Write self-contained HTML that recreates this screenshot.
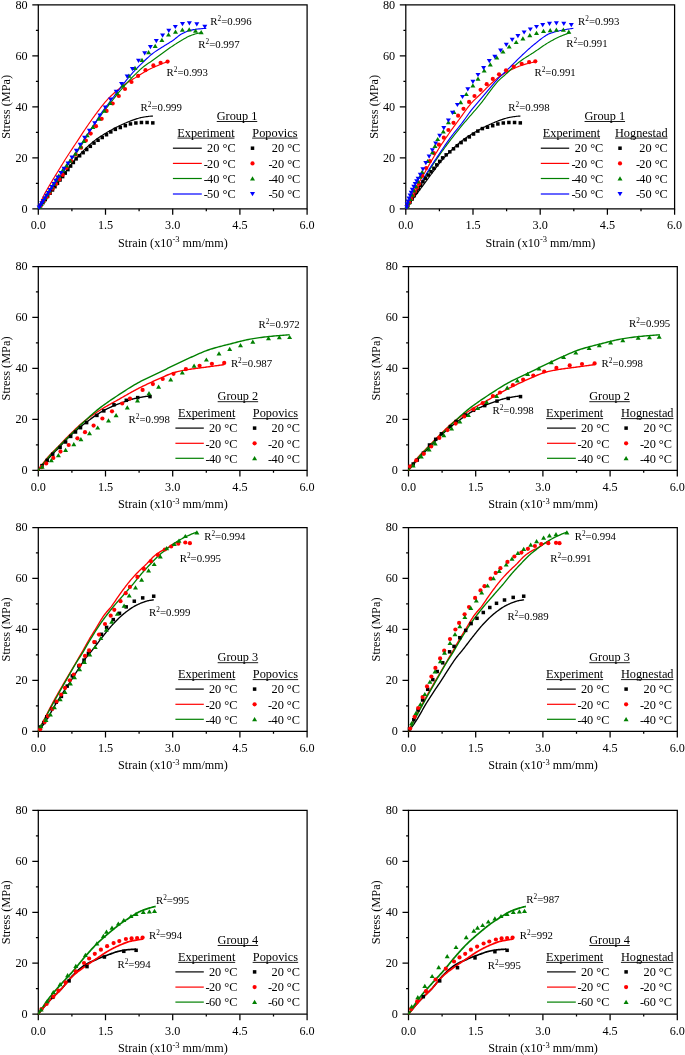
<!DOCTYPE html>
<html><head><meta charset="utf-8"><style>
html,body{margin:0;padding:0;background:#fff;}
svg{display:block;will-change:transform;}
text{font-family:"Liberation Serif",serif;fill:#000;}
</style></head><body>
<svg width="685" height="1055" viewBox="0 0 685 1055">
<rect width="685" height="1055" fill="#fff"/>
<path d="M38.30 4.90H307.10V208.80H38.30Z" fill="none" stroke="#000" stroke-width="1.25"/>
<path d="M32.30 208.80H38.30M35.90 183.31H38.30M32.30 157.83H38.30M35.90 132.34H38.30M32.30 106.85H38.30M35.90 81.36H38.30M32.30 55.88H38.30M35.90 30.39H38.30M32.30 4.90H38.30M38.30 208.80V214.80M71.90 208.80V211.20M105.50 208.80V214.80M139.10 208.80V211.20M172.70 208.80V214.80M206.30 208.80V211.20M239.90 208.80V214.80M273.50 208.80V211.20M307.10 208.80V214.80" stroke="#000" stroke-width="1.25" fill="none"/>
<text x="27.70" y="212.70" font-size="12.2" text-anchor="end">0</text>
<text x="27.70" y="161.73" font-size="12.2" text-anchor="end">20</text>
<text x="27.70" y="110.75" font-size="12.2" text-anchor="end">40</text>
<text x="27.70" y="59.77" font-size="12.2" text-anchor="end">60</text>
<text x="27.70" y="8.80" font-size="12.2" text-anchor="end">80</text>
<text x="38.30" y="229.40" font-size="12.2" text-anchor="middle">0.0</text>
<text x="105.50" y="229.40" font-size="12.2" text-anchor="middle">1.5</text>
<text x="172.70" y="229.40" font-size="12.2" text-anchor="middle">3.0</text>
<text x="239.90" y="229.40" font-size="12.2" text-anchor="middle">4.5</text>
<text x="307.10" y="229.40" font-size="12.2" text-anchor="middle">6.0</text>
<text x="172.90" y="246.80" font-size="12.15" text-anchor="middle">Strain (x10<tspan font-size="8.5" dy="-4.5">-3</tspan><tspan dy="4.5"> mm/mm)</tspan></text>
<text transform="translate(10.10,106.85) rotate(-90)" font-size="12.3" text-anchor="middle">Stress (MPa)</text>
<path d="M38.30 208.80 L39.02 207.81 L39.74 206.82 L40.46 205.83 L41.19 204.84 L41.91 203.86 L42.63 202.87 L43.35 201.89 L44.07 200.90 L44.79 199.92 L45.51 198.94 L46.23 197.96 L46.96 196.98 L47.68 196.00 L48.40 195.03 L49.12 194.05 L49.84 193.08 L50.56 192.10 L51.28 191.13 L52.00 190.16 L52.73 189.19 L53.45 188.22 L54.17 187.25 L54.89 186.29 L55.61 185.32 L56.33 184.36 L57.05 183.40 L57.78 182.43 L58.50 181.46 L59.22 180.48 L59.94 179.49 L60.66 178.50 L61.38 177.50 L62.10 176.51 L62.82 175.51 L63.55 174.51 L64.27 173.52 L64.99 172.53 L65.71 171.54 L66.43 170.55 L67.15 169.57 L67.87 168.60 L68.59 167.64 L69.32 166.69 L70.04 165.74 L70.76 164.81 L71.48 163.90 L72.20 162.99 L72.92 162.10 L73.64 161.23 L74.37 160.38 L75.09 159.54 L75.81 158.73 L76.53 157.93 L77.25 157.14 L77.97 156.35 L78.69 155.57 L79.41 154.80 L80.14 154.03 L80.86 153.28 L81.58 152.53 L82.30 151.79 L83.02 151.05 L83.74 150.33 L84.46 149.61 L85.19 148.91 L85.91 148.21 L86.63 147.52 L87.35 146.84 L88.07 146.18 L88.79 145.52 L89.51 144.87 L90.23 144.23 L90.96 143.60 L91.68 142.99 L92.40 142.38 L93.12 141.79 L93.84 141.21 L94.56 140.64 L95.28 140.08 L96.00 139.54 L96.73 139.01 L97.45 138.50 L98.17 138.00 L98.89 137.51 L99.61 137.02 L100.33 136.55 L101.05 136.09 L101.78 135.63 L102.50 135.17 L103.22 134.72 L103.94 134.28 L104.66 133.83 L105.38 133.39 L106.10 132.96 L106.82 132.53 L107.55 132.10 L108.27 131.68 L108.99 131.27 L109.71 130.86 L110.43 130.45 L111.15 130.05 L111.87 129.66 L112.59 129.27 L113.32 128.88 L114.04 128.50 L114.76 128.12 L115.48 127.75 L116.20 127.38 L116.92 127.02 L117.64 126.65 L118.37 126.30 L119.09 125.94 L119.81 125.60 L120.53 125.25 L121.25 124.91 L121.97 124.58 L122.69 124.25 L123.41 123.93 L124.14 123.61 L124.86 123.29 L125.58 122.98 L126.30 122.67 L127.02 122.36 L127.74 122.06 L128.46 121.76 L129.18 121.47 L129.91 121.18 L130.63 120.90 L131.35 120.63 L132.07 120.37 L132.79 120.12 L133.51 119.87 L134.23 119.62 L134.96 119.37 L135.68 119.12 L136.40 118.88 L137.12 118.65 L137.84 118.43 L138.56 118.22 L139.28 118.02 L140.00 117.84 L140.73 117.68 L141.45 117.53 L142.17 117.40 L142.89 117.27 L143.61 117.14 L144.33 117.02 L145.05 116.89 L145.77 116.78 L146.50 116.67 L147.22 116.56 L147.94 116.46 L148.66 116.37 L149.38 116.29 L150.10 116.22 L150.82 116.15 L151.55 116.10 L152.27 116.06 L152.99 116.03" fill="none" stroke="#000000" stroke-width="1.15" stroke-linejoin="round"/>
<path d="M38.30 208.80 L39.11 206.58 L39.92 204.42 L40.73 202.35 L41.54 200.38 L42.35 198.52 L43.16 196.79 L43.97 195.15 L44.78 193.60 L45.59 192.12 L46.40 190.68 L47.21 189.28 L48.02 187.89 L48.83 186.51 L49.64 185.11 L50.45 183.71 L51.26 182.34 L52.07 180.98 L52.88 179.63 L53.69 178.30 L54.50 176.97 L55.31 175.65 L56.12 174.33 L56.93 173.02 L57.74 171.70 L58.55 170.39 L59.36 169.06 L60.17 167.74 L60.98 166.41 L61.79 165.08 L62.60 163.76 L63.41 162.44 L64.22 161.13 L65.03 159.82 L65.84 158.53 L66.65 157.25 L67.46 155.97 L68.27 154.72 L69.08 153.48 L69.89 152.25 L70.70 151.03 L71.51 149.81 L72.32 148.60 L73.13 147.39 L73.94 146.19 L74.75 144.98 L75.56 143.76 L76.37 142.54 L77.18 141.31 L77.99 140.08 L78.80 138.84 L79.61 137.59 L80.42 136.35 L81.23 135.10 L82.04 133.87 L82.85 132.63 L83.66 131.41 L84.47 130.20 L85.28 129.00 L86.09 127.81 L86.90 126.64 L87.71 125.46 L88.52 124.29 L89.33 123.13 L90.14 121.97 L90.95 120.82 L91.76 119.68 L92.57 118.54 L93.38 117.42 L94.19 116.30 L95.00 115.20 L95.81 114.10 L96.62 113.02 L97.43 111.95 L98.24 110.89 L99.05 109.82 L99.86 108.77 L100.67 107.72 L101.48 106.68 L102.29 105.65 L103.11 104.63 L103.92 103.63 L104.73 102.65 L105.54 101.70 L106.35 100.76 L107.16 99.85 L107.97 98.97 L108.78 98.12 L109.59 97.30 L110.40 96.50 L111.21 95.72 L112.02 94.96 L112.83 94.22 L113.64 93.49 L114.45 92.76 L115.26 92.05 L116.07 91.34 L116.88 90.64 L117.69 89.96 L118.50 89.28 L119.31 88.61 L120.12 87.95 L120.93 87.31 L121.74 86.68 L122.55 86.05 L123.36 85.45 L124.17 84.85 L124.98 84.27 L125.79 83.70 L126.60 83.15 L127.41 82.62 L128.22 82.09 L129.03 81.58 L129.84 81.07 L130.65 80.57 L131.46 80.07 L132.27 79.58 L133.08 79.10 L133.89 78.61 L134.70 78.12 L135.51 77.63 L136.32 77.13 L137.13 76.63 L137.94 76.12 L138.75 75.61 L139.56 75.08 L140.37 74.56 L141.18 74.03 L141.99 73.50 L142.80 72.99 L143.61 72.48 L144.42 71.98 L145.23 71.49 L146.04 71.02 L146.85 70.57 L147.66 70.14 L148.47 69.73 L149.28 69.33 L150.09 68.94 L150.90 68.57 L151.71 68.20 L152.52 67.83 L153.33 67.47 L154.14 67.12 L154.95 66.76 L155.76 66.40 L156.57 66.05 L157.38 65.70 L158.19 65.35 L159.00 65.01 L159.81 64.66 L160.62 64.32 L161.43 63.99 L162.24 63.66 L163.05 63.33 L163.86 63.00 L164.67 62.68 L165.48 62.36 L166.29 62.05 L167.10 61.74" fill="none" stroke="#ff0000" stroke-width="1.15" stroke-linejoin="round"/>
<path d="M38.30 208.80 L39.33 207.16 L40.36 205.54 L41.39 203.93 L42.42 202.33 L43.46 200.74 L44.49 199.17 L45.52 197.61 L46.55 196.07 L47.58 194.54 L48.61 193.02 L49.64 191.51 L50.67 190.04 L51.71 188.60 L52.74 187.18 L53.77 185.78 L54.80 184.38 L55.83 182.99 L56.86 181.59 L57.89 180.17 L58.92 178.73 L59.96 177.26 L60.99 175.75 L62.02 174.18 L63.05 172.56 L64.08 170.92 L65.11 169.25 L66.14 167.59 L67.17 165.95 L68.21 164.34 L69.24 162.78 L70.27 161.29 L71.30 159.87 L72.33 158.49 L73.36 157.13 L74.39 155.75 L75.42 154.35 L76.46 152.87 L77.49 151.34 L78.52 149.76 L79.55 148.15 L80.58 146.51 L81.61 144.85 L82.64 143.17 L83.67 141.48 L84.71 139.78 L85.74 138.05 L86.77 136.25 L87.80 134.45 L88.83 132.68 L89.86 131.00 L90.89 129.39 L91.92 127.83 L92.96 126.30 L93.99 124.80 L95.02 123.32 L96.05 121.87 L97.08 120.44 L98.11 119.02 L99.14 117.61 L100.17 116.21 L101.21 114.83 L102.24 113.48 L103.27 112.14 L104.30 110.83 L105.33 109.52 L106.36 108.21 L107.39 106.91 L108.42 105.59 L109.46 104.26 L110.49 102.93 L111.52 101.59 L112.55 100.25 L113.58 98.91 L114.61 97.59 L115.64 96.28 L116.67 94.99 L117.71 93.72 L118.74 92.47 L119.77 91.23 L120.80 90.00 L121.83 88.79 L122.86 87.59 L123.89 86.40 L124.92 85.23 L125.96 84.08 L126.99 82.94 L128.02 81.81 L129.05 80.69 L130.08 79.59 L131.11 78.50 L132.14 77.42 L133.17 76.37 L134.21 75.33 L135.24 74.32 L136.27 73.31 L137.30 72.31 L138.33 71.33 L139.36 70.36 L140.39 69.41 L141.42 68.49 L142.46 67.61 L143.49 66.75 L144.52 65.95 L145.55 65.18 L146.58 64.46 L147.61 63.76 L148.64 63.08 L149.67 62.40 L150.71 61.72 L151.74 61.02 L152.77 60.30 L153.80 59.57 L154.83 58.82 L155.86 58.07 L156.89 57.32 L157.92 56.56 L158.96 55.80 L159.99 55.04 L161.02 54.29 L162.05 53.53 L163.08 52.78 L164.11 52.04 L165.14 51.29 L166.17 50.54 L167.21 49.80 L168.24 49.05 L169.27 48.31 L170.30 47.58 L171.33 46.86 L172.36 46.16 L173.39 45.47 L174.42 44.80 L175.46 44.13 L176.49 43.46 L177.52 42.81 L178.55 42.18 L179.58 41.55 L180.61 40.93 L181.64 40.33 L182.67 39.72 L183.71 39.10 L184.74 38.49 L185.77 37.90 L186.80 37.33 L187.83 36.79 L188.86 36.29 L189.89 35.85 L190.92 35.45 L191.96 35.08 L192.99 34.72 L194.02 34.38 L195.05 34.07 L196.08 33.78 L197.11 33.52 L198.14 33.30 L199.17 33.10 L200.21 32.94 L201.24 32.79 L202.27 32.68" fill="none" stroke="#008000" stroke-width="1.15" stroke-linejoin="round"/>
<path d="M38.30 208.80 L39.36 207.05 L40.41 205.32 L41.47 203.61 L42.53 201.92 L43.58 200.24 L44.64 198.59 L45.70 196.95 L46.75 195.33 L47.81 193.73 L48.87 192.15 L49.92 190.60 L50.98 189.08 L52.04 187.61 L53.09 186.16 L54.15 184.74 L55.21 183.32 L56.26 181.90 L57.32 180.46 L58.38 179.01 L59.43 177.51 L60.49 175.98 L61.55 174.38 L62.60 172.72 L63.66 171.01 L64.72 169.27 L65.77 167.53 L66.83 165.80 L67.88 164.10 L68.94 162.47 L70.00 160.90 L71.05 159.43 L72.11 158.01 L73.17 156.62 L74.22 155.22 L75.28 153.79 L76.34 152.28 L77.39 150.68 L78.45 149.01 L79.51 147.29 L80.56 145.53 L81.62 143.76 L82.68 142.01 L83.73 140.28 L84.79 138.61 L85.85 137.00 L86.90 135.43 L87.96 133.89 L89.02 132.37 L90.07 130.85 L91.13 129.31 L92.19 127.75 L93.24 126.15 L94.30 124.49 L95.36 122.72 L96.41 120.90 L97.47 119.07 L98.53 117.28 L99.58 115.57 L100.64 114.00 L101.70 112.51 L102.75 111.09 L103.81 109.71 L104.87 108.36 L105.92 107.03 L106.98 105.69 L108.04 104.33 L109.09 102.93 L110.15 101.52 L111.21 100.10 L112.26 98.68 L113.32 97.26 L114.38 95.84 L115.43 94.42 L116.49 93.02 L117.55 91.62 L118.60 90.24 L119.66 88.85 L120.72 87.47 L121.77 86.09 L122.83 84.72 L123.88 83.37 L124.94 82.04 L126.00 80.73 L127.05 79.44 L128.11 78.16 L129.17 76.89 L130.22 75.63 L131.28 74.39 L132.34 73.18 L133.39 71.98 L134.45 70.82 L135.51 69.68 L136.56 68.57 L137.62 67.48 L138.68 66.41 L139.73 65.36 L140.79 64.32 L141.85 63.30 L142.90 62.29 L143.96 61.29 L145.02 60.29 L146.07 59.29 L147.13 58.29 L148.19 57.30 L149.24 56.34 L150.30 55.41 L151.36 54.52 L152.41 53.68 L153.47 52.88 L154.53 52.12 L155.58 51.39 L156.64 50.68 L157.70 50.00 L158.75 49.32 L159.81 48.66 L160.87 48.00 L161.92 47.34 L162.98 46.67 L164.04 46.00 L165.09 45.34 L166.15 44.69 L167.21 44.05 L168.26 43.41 L169.32 42.76 L170.38 42.10 L171.43 41.43 L172.49 40.73 L173.55 39.98 L174.60 39.17 L175.66 38.31 L176.72 37.45 L177.77 36.59 L178.83 35.78 L179.88 35.02 L180.94 34.36 L182.00 33.79 L183.05 33.23 L184.11 32.70 L185.17 32.20 L186.22 31.74 L187.28 31.31 L188.34 30.93 L189.39 30.60 L190.45 30.32 L191.51 30.08 L192.56 29.86 L193.62 29.66 L194.68 29.48 L195.73 29.32 L196.79 29.18 L197.85 29.05 L198.90 28.93 L199.96 28.82 L201.02 28.71 L202.07 28.62 L203.13 28.53 L204.19 28.45 L205.24 28.39 L206.30 28.35" fill="none" stroke="#0000ff" stroke-width="1.15" stroke-linejoin="round"/>
<rect x="38.84" y="204.01" width="3.5" height="3.5" fill="#000000"/>
<rect x="41.16" y="200.94" width="3.5" height="3.5" fill="#000000"/>
<rect x="43.51" y="197.82" width="3.5" height="3.5" fill="#000000"/>
<rect x="45.89" y="194.66" width="3.5" height="3.5" fill="#000000"/>
<rect x="48.31" y="191.46" width="3.5" height="3.5" fill="#000000"/>
<rect x="50.75" y="188.22" width="3.5" height="3.5" fill="#000000"/>
<rect x="53.23" y="184.93" width="3.5" height="3.5" fill="#000000"/>
<rect x="55.74" y="181.60" width="3.5" height="3.5" fill="#000000"/>
<rect x="58.30" y="178.24" width="3.5" height="3.5" fill="#000000"/>
<rect x="60.89" y="174.83" width="3.5" height="3.5" fill="#000000"/>
<rect x="63.52" y="171.37" width="3.5" height="3.5" fill="#000000"/>
<rect x="66.18" y="167.87" width="3.5" height="3.5" fill="#000000"/>
<rect x="68.87" y="164.32" width="3.5" height="3.5" fill="#000000"/>
<rect x="71.61" y="160.73" width="3.5" height="3.5" fill="#000000"/>
<rect x="74.40" y="157.11" width="3.5" height="3.5" fill="#000000"/>
<rect x="77.88" y="154.04" width="3.5" height="3.5" fill="#000000"/>
<rect x="81.40" y="150.93" width="3.5" height="3.5" fill="#000000"/>
<rect x="84.97" y="147.78" width="3.5" height="3.5" fill="#000000"/>
<rect x="88.58" y="144.59" width="3.5" height="3.5" fill="#000000"/>
<rect x="92.24" y="141.35" width="3.5" height="3.5" fill="#000000"/>
<rect x="96.28" y="138.51" width="3.5" height="3.5" fill="#000000"/>
<rect x="100.48" y="135.76" width="3.5" height="3.5" fill="#000000"/>
<rect x="104.74" y="132.98" width="3.5" height="3.5" fill="#000000"/>
<rect x="109.06" y="130.17" width="3.5" height="3.5" fill="#000000"/>
<rect x="113.58" y="127.62" width="3.5" height="3.5" fill="#000000"/>
<rect x="118.54" y="125.78" width="3.5" height="3.5" fill="#000000"/>
<rect x="123.57" y="123.92" width="3.5" height="3.5" fill="#000000"/>
<rect x="128.71" y="122.17" width="3.5" height="3.5" fill="#000000"/>
<rect x="134.13" y="121.23" width="3.5" height="3.5" fill="#000000"/>
<rect x="139.69" y="120.75" width="3.5" height="3.5" fill="#000000"/>
<rect x="145.34" y="120.75" width="3.5" height="3.5" fill="#000000"/>
<rect x="151.05" y="121.15" width="3.5" height="3.5" fill="#000000"/>
<circle cx="40.78" cy="205.35" r="2.1" fill="#ff0000"/>
<circle cx="43.61" cy="201.40" r="2.1" fill="#ff0000"/>
<circle cx="46.60" cy="197.24" r="2.1" fill="#ff0000"/>
<circle cx="49.68" cy="192.94" r="2.1" fill="#ff0000"/>
<circle cx="52.85" cy="188.53" r="2.1" fill="#ff0000"/>
<circle cx="56.08" cy="184.02" r="2.1" fill="#ff0000"/>
<circle cx="59.37" cy="179.44" r="2.1" fill="#ff0000"/>
<circle cx="62.70" cy="174.80" r="2.1" fill="#ff0000"/>
<circle cx="66.60" cy="167.80" r="2.1" fill="#ff0000"/>
<circle cx="71.00" cy="160.80" r="2.1" fill="#ff0000"/>
<circle cx="75.80" cy="154.70" r="2.1" fill="#ff0000"/>
<circle cx="81.10" cy="147.70" r="2.1" fill="#ff0000"/>
<circle cx="85.90" cy="140.60" r="2.1" fill="#ff0000"/>
<circle cx="90.70" cy="133.60" r="2.1" fill="#ff0000"/>
<circle cx="96.00" cy="126.20" r="2.1" fill="#ff0000"/>
<circle cx="101.70" cy="118.80" r="2.1" fill="#ff0000"/>
<circle cx="106.60" cy="110.90" r="2.1" fill="#ff0000"/>
<circle cx="112.70" cy="103.50" r="2.1" fill="#ff0000"/>
<circle cx="118.80" cy="96.00" r="2.1" fill="#ff0000"/>
<circle cx="125.00" cy="89.00" r="2.1" fill="#ff0000"/>
<circle cx="131.50" cy="82.00" r="2.1" fill="#ff0000"/>
<circle cx="138.10" cy="75.90" r="2.1" fill="#ff0000"/>
<circle cx="145.50" cy="70.20" r="2.1" fill="#ff0000"/>
<circle cx="153.40" cy="65.40" r="2.1" fill="#ff0000"/>
<circle cx="160.60" cy="62.80" r="2.1" fill="#ff0000"/>
<circle cx="167.60" cy="61.60" r="2.1" fill="#ff0000"/>
<path d="M39.59 204.41L42.09 208.61L37.09 208.61Z" fill="#008000"/>
<path d="M41.27 201.70L43.77 205.90L38.77 205.90Z" fill="#008000"/>
<path d="M43.13 198.69L45.63 202.89L40.63 202.89Z" fill="#008000"/>
<path d="M45.13 195.48L47.63 199.68L42.63 199.68Z" fill="#008000"/>
<path d="M47.22 192.09L49.72 196.29L44.72 196.29Z" fill="#008000"/>
<path d="M49.41 188.57L51.91 192.77L46.91 192.77Z" fill="#008000"/>
<path d="M51.66 184.93L54.16 189.13L49.16 189.13Z" fill="#008000"/>
<path d="M53.98 181.18L56.48 185.38L51.48 185.38Z" fill="#008000"/>
<path d="M56.37 177.33L58.87 181.53L53.87 181.53Z" fill="#008000"/>
<path d="M58.80 173.40L61.30 177.60L56.30 177.60Z" fill="#008000"/>
<path d="M62.70 168.10L65.20 172.30L60.20 172.30Z" fill="#008000"/>
<path d="M66.50 163.20L69.00 167.40L64.00 167.40Z" fill="#008000"/>
<path d="M70.10 158.50L72.60 162.70L67.60 162.70Z" fill="#008000"/>
<path d="M75.40 151.50L77.90 155.70L72.90 155.70Z" fill="#008000"/>
<path d="M80.50 144.20L83.00 148.40L78.00 148.40Z" fill="#008000"/>
<path d="M83.80 138.70L86.30 142.90L81.30 142.90Z" fill="#008000"/>
<path d="M87.20 133.10L89.70 137.30L84.70 137.30Z" fill="#008000"/>
<path d="M92.90 124.80L95.40 129.00L90.40 129.00Z" fill="#008000"/>
<path d="M99.00 116.50L101.50 120.70L96.50 120.70Z" fill="#008000"/>
<path d="M104.40 108.60L106.90 112.80L101.90 112.80Z" fill="#008000"/>
<path d="M110.10 100.70L112.60 104.90L107.60 104.90Z" fill="#008000"/>
<path d="M117.10 91.10L119.60 95.30L114.60 95.30Z" fill="#008000"/>
<path d="M122.80 83.20L125.30 87.40L120.30 87.40Z" fill="#008000"/>
<path d="M128.90 73.60L131.40 77.80L126.40 77.80Z" fill="#008000"/>
<path d="M135.00 65.70L137.50 69.90L132.50 69.90Z" fill="#008000"/>
<path d="M142.00 57.80L144.50 62.00L139.50 62.00Z" fill="#008000"/>
<path d="M148.60 50.00L151.10 54.20L146.10 54.20Z" fill="#008000"/>
<path d="M155.20 43.80L157.70 48.00L152.70 48.00Z" fill="#008000"/>
<path d="M161.90 37.70L164.40 41.90L159.40 41.90Z" fill="#008000"/>
<path d="M168.50 32.40L171.00 36.60L166.00 36.60Z" fill="#008000"/>
<path d="M175.50 29.50L178.00 33.70L173.00 33.70Z" fill="#008000"/>
<path d="M182.40 27.60L184.90 31.80L179.90 31.80Z" fill="#008000"/>
<path d="M189.20 27.20L191.70 31.40L186.70 31.40Z" fill="#008000"/>
<path d="M195.50 28.60L198.00 32.80L193.00 32.80Z" fill="#008000"/>
<path d="M201.20 30.10L203.70 34.30L198.70 34.30Z" fill="#008000"/>
<path d="M39.18 209.69L41.68 205.49L36.68 205.49Z" fill="#0000ff"/>
<path d="M40.39 207.76L42.89 203.56L37.89 203.56Z" fill="#0000ff"/>
<path d="M41.76 205.55L44.26 201.35L39.26 201.35Z" fill="#0000ff"/>
<path d="M43.26 203.15L45.76 198.95L40.76 198.95Z" fill="#0000ff"/>
<path d="M44.86 200.59L47.36 196.39L42.36 196.39Z" fill="#0000ff"/>
<path d="M46.54 197.90L49.04 193.70L44.04 193.70Z" fill="#0000ff"/>
<path d="M48.29 195.09L50.79 190.89L45.79 190.89Z" fill="#0000ff"/>
<path d="M50.11 192.18L52.61 187.98L47.61 187.98Z" fill="#0000ff"/>
<path d="M51.98 189.18L54.48 184.98L49.48 184.98Z" fill="#0000ff"/>
<path d="M53.91 186.10L56.41 181.90L51.41 181.90Z" fill="#0000ff"/>
<path d="M55.88 182.94L58.38 178.74L53.38 178.74Z" fill="#0000ff"/>
<path d="M57.90 179.70L60.40 175.50L55.40 175.50Z" fill="#0000ff"/>
<path d="M60.90 175.30L63.40 171.10L58.40 171.10Z" fill="#0000ff"/>
<path d="M64.00 171.00L66.50 166.80L61.50 166.80Z" fill="#0000ff"/>
<path d="M68.00 165.70L70.50 161.50L65.50 161.50Z" fill="#0000ff"/>
<path d="M71.90 159.60L74.40 155.40L69.40 155.40Z" fill="#0000ff"/>
<path d="M76.30 153.00L78.80 148.80L73.80 148.80Z" fill="#0000ff"/>
<path d="M80.20 146.90L82.70 142.70L77.70 142.70Z" fill="#0000ff"/>
<path d="M84.60 139.90L87.10 135.70L82.10 135.70Z" fill="#0000ff"/>
<path d="M89.40 132.90L91.90 128.70L86.90 128.70Z" fill="#0000ff"/>
<path d="M94.70 125.40L97.20 121.20L92.20 121.20Z" fill="#0000ff"/>
<path d="M99.90 117.60L102.40 113.40L97.40 113.40Z" fill="#0000ff"/>
<path d="M105.30 109.70L107.80 105.50L102.80 105.50Z" fill="#0000ff"/>
<path d="M110.50 101.80L113.00 97.60L108.00 97.60Z" fill="#0000ff"/>
<path d="M116.20 94.00L118.70 89.80L113.70 89.80Z" fill="#0000ff"/>
<path d="M121.50 86.10L124.00 81.90L119.00 81.90Z" fill="#0000ff"/>
<path d="M127.10 78.60L129.60 74.40L124.60 74.40Z" fill="#0000ff"/>
<path d="M132.40 71.20L134.90 67.00L129.90 67.00Z" fill="#0000ff"/>
<path d="M138.50 62.90L141.00 58.70L136.00 58.70Z" fill="#0000ff"/>
<path d="M144.70 55.40L147.20 51.20L142.20 51.20Z" fill="#0000ff"/>
<path d="M150.40 49.30L152.90 45.10L147.90 45.10Z" fill="#0000ff"/>
<path d="M156.30 43.30L158.80 39.10L153.80 39.10Z" fill="#0000ff"/>
<path d="M162.60 37.80L165.10 33.60L160.10 33.60Z" fill="#0000ff"/>
<path d="M168.80 32.90L171.30 28.70L166.30 28.70Z" fill="#0000ff"/>
<path d="M175.30 29.10L177.80 24.90L172.80 24.90Z" fill="#0000ff"/>
<path d="M182.50 26.20L185.00 22.00L180.00 22.00Z" fill="#0000ff"/>
<path d="M189.40 25.40L191.90 21.20L186.90 21.20Z" fill="#0000ff"/>
<path d="M196.80 26.40L199.30 22.20L194.30 22.20Z" fill="#0000ff"/>
<path d="M204.80 28.90L207.30 24.70L202.30 24.70Z" fill="#0000ff"/>
<text x="210.30" y="24.80" font-size="10.8">R<tspan font-size="7.3" dy="-4.1">2</tspan><tspan dy="4.1">=0.996</tspan></text>
<text x="198.30" y="47.60" font-size="10.8">R<tspan font-size="7.3" dy="-4.1">2</tspan><tspan dy="4.1">=0.997</tspan></text>
<text x="166.60" y="76.40" font-size="10.8">R<tspan font-size="7.3" dy="-4.1">2</tspan><tspan dy="4.1">=0.993</tspan></text>
<text x="140.60" y="110.60" font-size="10.8">R<tspan font-size="7.3" dy="-4.1">2</tspan><tspan dy="4.1">=0.999</tspan></text>
<text x="237.00" y="119.90" font-size="12.3" text-anchor="middle">Group 1</text><line x1="216.75" x2="257.25" y1="121.50" y2="121.50" stroke="#000" stroke-width="0.9"/>
<text x="205.95" y="136.50" font-size="12.3" text-anchor="middle">Experiment</text><line x1="177.45" x2="234.45" y1="138.10" y2="138.10" stroke="#000" stroke-width="0.9"/>
<text x="274.90" y="136.50" font-size="12.3" text-anchor="middle">Popovics</text><line x1="252.15" x2="297.65" y1="138.10" y2="138.10" stroke="#000" stroke-width="0.9"/>
<line x1="172.9" x2="201.8" y1="148.20" y2="148.20" stroke="#000000" stroke-width="1.2"/>
<text x="235.60" y="152.40" font-size="12.3" text-anchor="end">20 °C</text>
<rect x="250.75" y="146.45" width="3.5" height="3.5" fill="#000000"/>
<text x="300.30" y="152.40" font-size="12.3" text-anchor="end">20 °C</text>
<line x1="172.9" x2="201.8" y1="163.40" y2="163.40" stroke="#ff0000" stroke-width="1.2"/>
<text x="235.60" y="167.60" font-size="12.3" text-anchor="end">-<tspan dx="-0.7">20</tspan> °C</text>
<circle cx="252.50" cy="163.40" r="2.1" fill="#ff0000"/>
<text x="300.30" y="167.60" font-size="12.3" text-anchor="end">-<tspan dx="-0.7">20</tspan> °C</text>
<line x1="172.9" x2="201.8" y1="178.50" y2="178.50" stroke="#008000" stroke-width="1.2"/>
<text x="235.60" y="182.70" font-size="12.3" text-anchor="end">-<tspan dx="-0.7">40</tspan> °C</text>
<path d="M252.50 176.20L255.00 180.40L250.00 180.40Z" fill="#008000"/>
<text x="300.30" y="182.70" font-size="12.3" text-anchor="end">-<tspan dx="-0.7">40</tspan> °C</text>
<line x1="172.9" x2="201.8" y1="194.00" y2="194.00" stroke="#0000ff" stroke-width="1.2"/>
<text x="235.60" y="198.20" font-size="12.3" text-anchor="end">-<tspan dx="-0.7">50</tspan> °C</text>
<path d="M252.50 196.30L255.00 192.10L250.00 192.10Z" fill="#0000ff"/>
<text x="300.30" y="198.20" font-size="12.3" text-anchor="end">-<tspan dx="-0.7">50</tspan> °C</text>
<path d="M405.80 4.90H674.60V208.80H405.80Z" fill="none" stroke="#000" stroke-width="1.25"/>
<path d="M399.80 208.80H405.80M403.40 183.31H405.80M399.80 157.83H405.80M403.40 132.34H405.80M399.80 106.85H405.80M403.40 81.36H405.80M399.80 55.88H405.80M403.40 30.39H405.80M399.80 4.90H405.80M405.80 208.80V214.80M439.40 208.80V211.20M473.00 208.80V214.80M506.60 208.80V211.20M540.20 208.80V214.80M573.80 208.80V211.20M607.40 208.80V214.80M641.00 208.80V211.20M674.60 208.80V214.80" stroke="#000" stroke-width="1.25" fill="none"/>
<text x="395.20" y="212.70" font-size="12.2" text-anchor="end">0</text>
<text x="395.20" y="161.73" font-size="12.2" text-anchor="end">20</text>
<text x="395.20" y="110.75" font-size="12.2" text-anchor="end">40</text>
<text x="395.20" y="59.77" font-size="12.2" text-anchor="end">60</text>
<text x="395.20" y="8.80" font-size="12.2" text-anchor="end">80</text>
<text x="405.80" y="229.40" font-size="12.2" text-anchor="middle">0.0</text>
<text x="473.00" y="229.40" font-size="12.2" text-anchor="middle">1.5</text>
<text x="540.20" y="229.40" font-size="12.2" text-anchor="middle">3.0</text>
<text x="607.40" y="229.40" font-size="12.2" text-anchor="middle">4.5</text>
<text x="674.60" y="229.40" font-size="12.2" text-anchor="middle">6.0</text>
<text x="540.40" y="246.80" font-size="12.15" text-anchor="middle">Strain (x10<tspan font-size="8.5" dy="-4.5">-3</tspan><tspan dy="4.5"> mm/mm)</tspan></text>
<text transform="translate(377.60,106.85) rotate(-90)" font-size="12.3" text-anchor="middle">Stress (MPa)</text>
<path d="M405.80 208.80 L406.52 207.81 L407.24 206.82 L407.96 205.83 L408.69 204.84 L409.41 203.86 L410.13 202.87 L410.85 201.89 L411.57 200.90 L412.29 199.92 L413.01 198.94 L413.73 197.96 L414.46 196.98 L415.18 196.00 L415.90 195.03 L416.62 194.05 L417.34 193.08 L418.06 192.10 L418.78 191.13 L419.50 190.16 L420.23 189.19 L420.95 188.22 L421.67 187.25 L422.39 186.29 L423.11 185.32 L423.83 184.36 L424.55 183.40 L425.28 182.43 L426.00 181.46 L426.72 180.48 L427.44 179.49 L428.16 178.50 L428.88 177.50 L429.60 176.51 L430.32 175.51 L431.05 174.51 L431.77 173.52 L432.49 172.53 L433.21 171.54 L433.93 170.55 L434.65 169.57 L435.37 168.60 L436.09 167.64 L436.82 166.69 L437.54 165.74 L438.26 164.81 L438.98 163.90 L439.70 162.99 L440.42 162.10 L441.14 161.23 L441.87 160.38 L442.59 159.54 L443.31 158.73 L444.03 157.93 L444.75 157.14 L445.47 156.35 L446.19 155.57 L446.91 154.80 L447.64 154.03 L448.36 153.28 L449.08 152.53 L449.80 151.79 L450.52 151.05 L451.24 150.33 L451.96 149.61 L452.69 148.91 L453.41 148.21 L454.13 147.52 L454.85 146.84 L455.57 146.18 L456.29 145.52 L457.01 144.87 L457.73 144.23 L458.46 143.60 L459.18 142.99 L459.90 142.38 L460.62 141.79 L461.34 141.21 L462.06 140.64 L462.78 140.08 L463.50 139.54 L464.23 139.01 L464.95 138.50 L465.67 138.00 L466.39 137.51 L467.11 137.02 L467.83 136.55 L468.55 136.09 L469.28 135.63 L470.00 135.17 L470.72 134.72 L471.44 134.28 L472.16 133.83 L472.88 133.39 L473.60 132.96 L474.32 132.53 L475.05 132.10 L475.77 131.68 L476.49 131.27 L477.21 130.86 L477.93 130.45 L478.65 130.05 L479.37 129.66 L480.09 129.27 L480.82 128.88 L481.54 128.50 L482.26 128.12 L482.98 127.75 L483.70 127.38 L484.42 127.02 L485.14 126.65 L485.87 126.30 L486.59 125.94 L487.31 125.60 L488.03 125.25 L488.75 124.91 L489.47 124.58 L490.19 124.25 L490.91 123.93 L491.64 123.61 L492.36 123.29 L493.08 122.98 L493.80 122.67 L494.52 122.36 L495.24 122.06 L495.96 121.76 L496.68 121.47 L497.41 121.18 L498.13 120.90 L498.85 120.63 L499.57 120.37 L500.29 120.12 L501.01 119.87 L501.73 119.62 L502.46 119.37 L503.18 119.12 L503.90 118.88 L504.62 118.65 L505.34 118.43 L506.06 118.22 L506.78 118.02 L507.50 117.84 L508.23 117.68 L508.95 117.53 L509.67 117.40 L510.39 117.27 L511.11 117.14 L511.83 117.02 L512.55 116.89 L513.27 116.78 L514.00 116.67 L514.72 116.56 L515.44 116.46 L516.16 116.37 L516.88 116.29 L517.60 116.22 L518.32 116.15 L519.05 116.10 L519.77 116.06 L520.49 116.03" fill="none" stroke="#000000" stroke-width="1.15" stroke-linejoin="round"/>
<path d="M405.80 208.80 L406.61 206.87 L407.43 204.97 L408.24 203.11 L409.06 201.28 L409.87 199.49 L410.69 197.73 L411.50 195.99 L412.31 194.27 L413.13 192.59 L413.94 190.98 L414.76 189.43 L415.57 187.98 L416.39 186.59 L417.20 185.26 L418.01 183.96 L418.83 182.67 L419.64 181.38 L420.46 180.06 L421.27 178.70 L422.09 177.30 L422.90 175.88 L423.71 174.44 L424.53 172.99 L425.34 171.54 L426.16 170.09 L426.97 168.64 L427.79 167.21 L428.60 165.80 L429.41 164.39 L430.23 162.99 L431.04 161.59 L431.86 160.20 L432.67 158.82 L433.49 157.44 L434.30 156.06 L435.11 154.69 L435.93 153.32 L436.74 151.95 L437.56 150.58 L438.37 149.23 L439.19 147.91 L440.00 146.63 L440.81 145.39 L441.63 144.17 L442.44 142.98 L443.26 141.81 L444.07 140.63 L444.89 139.46 L445.70 138.27 L446.51 137.08 L447.33 135.89 L448.14 134.71 L448.96 133.53 L449.77 132.37 L450.59 131.21 L451.40 130.07 L452.21 128.93 L453.03 127.80 L453.84 126.68 L454.66 125.56 L455.47 124.44 L456.29 123.33 L457.10 122.22 L457.91 121.11 L458.73 120.00 L459.54 118.89 L460.36 117.79 L461.17 116.68 L461.99 115.56 L462.80 114.42 L463.61 113.27 L464.43 112.12 L465.24 110.97 L466.06 109.84 L466.87 108.72 L467.69 107.62 L468.50 106.55 L469.31 105.52 L470.13 104.53 L470.94 103.58 L471.76 102.68 L472.57 101.81 L473.39 100.97 L474.20 100.16 L475.01 99.36 L475.83 98.58 L476.64 97.81 L477.46 97.04 L478.27 96.28 L479.09 95.51 L479.90 94.73 L480.71 93.94 L481.53 93.13 L482.34 92.32 L483.16 91.50 L483.97 90.67 L484.79 89.84 L485.60 89.01 L486.41 88.19 L487.23 87.37 L488.04 86.56 L488.86 85.76 L489.67 84.98 L490.49 84.21 L491.30 83.46 L492.11 82.72 L492.93 81.99 L493.74 81.25 L494.56 80.52 L495.37 79.81 L496.19 79.11 L497.00 78.43 L497.81 77.78 L498.63 77.16 L499.44 76.57 L500.26 76.01 L501.07 75.47 L501.89 74.95 L502.70 74.44 L503.51 73.94 L504.33 73.45 L505.14 72.98 L505.96 72.51 L506.77 72.06 L507.59 71.62 L508.40 71.19 L509.21 70.76 L510.03 70.35 L510.84 69.95 L511.66 69.55 L512.47 69.17 L513.29 68.79 L514.10 68.42 L514.91 68.05 L515.73 67.69 L516.54 67.33 L517.36 66.99 L518.17 66.65 L518.99 66.32 L519.80 66.00 L520.61 65.69 L521.43 65.39 L522.24 65.11 L523.06 64.85 L523.87 64.60 L524.69 64.36 L525.50 64.14 L526.31 63.91 L527.13 63.69 L527.94 63.48 L528.76 63.28 L529.57 63.09 L530.39 62.90 L531.20 62.72 L532.01 62.55 L532.83 62.40 L533.64 62.25 L534.46 62.11 L535.27 61.99" fill="none" stroke="#ff0000" stroke-width="1.15" stroke-linejoin="round"/>
<path d="M405.80 208.80 L406.83 207.08 L407.87 205.37 L408.90 203.65 L409.94 201.94 L410.97 200.24 L412.00 198.54 L413.04 196.84 L414.07 195.14 L415.11 193.45 L416.14 191.77 L417.17 190.09 L418.21 188.41 L419.24 186.74 L420.28 185.07 L421.31 183.40 L422.35 181.72 L423.38 180.04 L424.41 178.36 L425.45 176.65 L426.48 174.94 L427.52 173.24 L428.55 171.55 L429.58 169.88 L430.62 168.25 L431.65 166.65 L432.69 165.06 L433.72 163.49 L434.75 161.94 L435.79 160.40 L436.82 158.88 L437.86 157.37 L438.89 155.88 L439.92 154.40 L440.96 152.94 L441.99 151.49 L443.03 150.05 L444.06 148.63 L445.09 147.22 L446.13 145.82 L447.16 144.43 L448.20 143.05 L449.23 141.68 L450.26 140.32 L451.30 138.97 L452.33 137.62 L453.37 136.29 L454.40 134.97 L455.44 133.66 L456.47 132.36 L457.50 131.07 L458.54 129.78 L459.57 128.50 L460.61 127.24 L461.64 125.97 L462.67 124.72 L463.71 123.47 L464.74 122.24 L465.78 121.03 L466.81 119.82 L467.84 118.62 L468.88 117.43 L469.91 116.24 L470.95 115.05 L471.98 113.87 L473.01 112.68 L474.05 111.49 L475.08 110.30 L476.12 109.09 L477.15 107.88 L478.18 106.66 L479.22 105.42 L480.25 104.16 L481.29 102.87 L482.32 101.54 L483.35 100.19 L484.39 98.81 L485.42 97.42 L486.46 96.02 L487.49 94.61 L488.53 93.20 L489.56 91.80 L490.59 90.41 L491.63 89.04 L492.66 87.69 L493.70 86.36 L494.73 85.07 L495.76 83.82 L496.80 82.61 L497.83 81.45 L498.87 80.35 L499.90 79.30 L500.93 78.35 L501.97 77.48 L503.00 76.64 L504.04 75.78 L505.07 74.87 L506.10 73.93 L507.14 72.97 L508.17 71.98 L509.21 70.99 L510.24 69.99 L511.27 68.99 L512.31 68.00 L513.34 67.02 L514.38 66.06 L515.41 65.11 L516.44 64.20 L517.48 63.32 L518.51 62.48 L519.55 61.69 L520.58 60.93 L521.62 60.19 L522.65 59.48 L523.68 58.79 L524.72 58.12 L525.75 57.46 L526.79 56.81 L527.82 56.16 L528.85 55.52 L529.89 54.88 L530.92 54.24 L531.96 53.58 L532.99 52.92 L534.02 52.24 L535.06 51.55 L536.09 50.84 L537.13 50.13 L538.16 49.41 L539.19 48.68 L540.23 47.96 L541.26 47.24 L542.30 46.52 L543.33 45.81 L544.36 45.11 L545.40 44.43 L546.43 43.76 L547.47 43.12 L548.50 42.50 L549.53 41.90 L550.57 41.31 L551.60 40.74 L552.64 40.18 L553.67 39.62 L554.71 39.09 L555.74 38.56 L556.77 38.05 L557.81 37.55 L558.84 37.06 L559.88 36.59 L560.91 36.14 L561.94 35.71 L562.98 35.28 L564.01 34.87 L565.05 34.47 L566.08 34.09 L567.11 33.71 L568.15 33.36 L569.18 33.01 L570.22 32.68" fill="none" stroke="#008000" stroke-width="1.15" stroke-linejoin="round"/>
<path d="M405.80 208.80 L406.85 207.00 L407.91 205.21 L408.96 203.41 L410.02 201.61 L411.07 199.81 L412.12 198.01 L413.18 196.21 L414.23 194.41 L415.28 192.61 L416.34 190.80 L417.39 188.98 L418.45 187.16 L419.50 185.34 L420.55 183.54 L421.61 181.75 L422.66 179.97 L423.71 178.21 L424.77 176.46 L425.82 174.72 L426.88 172.98 L427.93 171.27 L428.98 169.57 L430.04 167.89 L431.09 166.24 L432.14 164.60 L433.20 162.98 L434.25 161.38 L435.31 159.79 L436.36 158.22 L437.41 156.64 L438.47 155.08 L439.52 153.51 L440.57 151.93 L441.63 150.36 L442.68 148.79 L443.74 147.23 L444.79 145.67 L445.84 144.13 L446.90 142.61 L447.95 141.11 L449.01 139.63 L450.06 138.17 L451.11 136.75 L452.17 135.36 L453.22 134.01 L454.27 132.68 L455.33 131.38 L456.38 130.08 L457.44 128.79 L458.49 127.49 L459.54 126.19 L460.60 124.86 L461.65 123.51 L462.70 122.13 L463.76 120.70 L464.81 119.23 L465.87 117.73 L466.92 116.22 L467.97 114.72 L469.03 113.24 L470.08 111.82 L471.13 110.45 L472.19 109.13 L473.24 107.84 L474.30 106.58 L475.35 105.34 L476.40 104.11 L477.46 102.90 L478.51 101.68 L479.57 100.46 L480.62 99.22 L481.67 97.97 L482.73 96.71 L483.78 95.46 L484.83 94.20 L485.89 92.94 L486.94 91.68 L488.00 90.42 L489.05 89.18 L490.10 87.94 L491.16 86.71 L492.21 85.48 L493.26 84.23 L494.32 82.98 L495.37 81.74 L496.43 80.52 L497.48 79.32 L498.53 78.17 L499.59 77.07 L500.64 76.04 L501.69 75.08 L502.75 74.15 L503.80 73.21 L504.86 72.23 L505.91 71.23 L506.96 70.21 L508.02 69.18 L509.07 68.14 L510.12 67.09 L511.18 66.03 L512.23 64.98 L513.29 63.91 L514.34 62.85 L515.39 61.79 L516.45 60.73 L517.50 59.67 L518.56 58.63 L519.61 57.59 L520.66 56.56 L521.72 55.54 L522.77 54.54 L523.82 53.56 L524.88 52.58 L525.93 51.61 L526.99 50.64 L528.04 49.69 L529.09 48.74 L530.15 47.81 L531.20 46.90 L532.25 46.01 L533.31 45.15 L534.36 44.32 L535.42 43.48 L536.47 42.62 L537.52 41.77 L538.58 40.91 L539.63 40.06 L540.68 39.23 L541.74 38.41 L542.79 37.63 L543.85 36.87 L544.90 36.16 L545.95 35.49 L547.01 34.87 L548.06 34.32 L549.11 33.83 L550.17 33.40 L551.22 33.03 L552.28 32.68 L553.33 32.35 L554.38 32.04 L555.44 31.76 L556.49 31.48 L557.55 31.23 L558.60 30.98 L559.65 30.75 L560.71 30.53 L561.76 30.31 L562.81 30.10 L563.87 29.89 L564.92 29.69 L565.98 29.49 L567.03 29.30 L568.08 29.12 L569.14 28.95 L570.19 28.79 L571.24 28.63 L572.30 28.48 L573.35 28.35" fill="none" stroke="#0000ff" stroke-width="1.15" stroke-linejoin="round"/>
<rect x="406.10" y="203.92" width="3.5" height="3.5" fill="#000000"/>
<rect x="408.18" y="200.64" width="3.5" height="3.5" fill="#000000"/>
<rect x="410.29" y="197.32" width="3.5" height="3.5" fill="#000000"/>
<rect x="412.42" y="193.95" width="3.5" height="3.5" fill="#000000"/>
<rect x="414.58" y="190.54" width="3.5" height="3.5" fill="#000000"/>
<rect x="416.77" y="187.09" width="3.5" height="3.5" fill="#000000"/>
<rect x="418.99" y="183.59" width="3.5" height="3.5" fill="#000000"/>
<rect x="421.24" y="180.04" width="3.5" height="3.5" fill="#000000"/>
<rect x="423.77" y="176.63" width="3.5" height="3.5" fill="#000000"/>
<rect x="426.53" y="173.32" width="3.5" height="3.5" fill="#000000"/>
<rect x="429.32" y="169.96" width="3.5" height="3.5" fill="#000000"/>
<rect x="432.15" y="166.56" width="3.5" height="3.5" fill="#000000"/>
<rect x="435.03" y="163.12" width="3.5" height="3.5" fill="#000000"/>
<rect x="437.93" y="159.63" width="3.5" height="3.5" fill="#000000"/>
<rect x="440.88" y="156.09" width="3.5" height="3.5" fill="#000000"/>
<rect x="444.42" y="153.07" width="3.5" height="3.5" fill="#000000"/>
<rect x="448.08" y="150.08" width="3.5" height="3.5" fill="#000000"/>
<rect x="451.79" y="147.05" width="3.5" height="3.5" fill="#000000"/>
<rect x="455.55" y="143.99" width="3.5" height="3.5" fill="#000000"/>
<rect x="459.36" y="140.88" width="3.5" height="3.5" fill="#000000"/>
<rect x="463.41" y="137.99" width="3.5" height="3.5" fill="#000000"/>
<rect x="467.58" y="135.15" width="3.5" height="3.5" fill="#000000"/>
<rect x="471.80" y="132.26" width="3.5" height="3.5" fill="#000000"/>
<rect x="476.08" y="129.34" width="3.5" height="3.5" fill="#000000"/>
<rect x="480.63" y="126.85" width="3.5" height="3.5" fill="#000000"/>
<rect x="485.76" y="125.45" width="3.5" height="3.5" fill="#000000"/>
<rect x="490.94" y="123.97" width="3.5" height="3.5" fill="#000000"/>
<rect x="496.10" y="122.19" width="3.5" height="3.5" fill="#000000"/>
<rect x="501.55" y="121.24" width="3.5" height="3.5" fill="#000000"/>
<rect x="507.13" y="120.75" width="3.5" height="3.5" fill="#000000"/>
<rect x="512.81" y="120.75" width="3.5" height="3.5" fill="#000000"/>
<rect x="518.55" y="121.15" width="3.5" height="3.5" fill="#000000"/>
<circle cx="407.38" cy="205.86" r="2.1" fill="#ff0000"/>
<circle cx="409.18" cy="202.50" r="2.1" fill="#ff0000"/>
<circle cx="411.08" cy="198.96" r="2.1" fill="#ff0000"/>
<circle cx="413.04" cy="195.29" r="2.1" fill="#ff0000"/>
<circle cx="415.05" cy="191.53" r="2.1" fill="#ff0000"/>
<circle cx="417.11" cy="187.70" r="2.1" fill="#ff0000"/>
<circle cx="419.20" cy="183.80" r="2.1" fill="#ff0000"/>
<circle cx="422.20" cy="175.80" r="2.1" fill="#ff0000"/>
<circle cx="426.20" cy="168.10" r="2.1" fill="#ff0000"/>
<circle cx="429.80" cy="161.20" r="2.1" fill="#ff0000"/>
<circle cx="433.80" cy="153.10" r="2.1" fill="#ff0000"/>
<circle cx="438.90" cy="144.70" r="2.1" fill="#ff0000"/>
<circle cx="443.80" cy="137.70" r="2.1" fill="#ff0000"/>
<circle cx="448.40" cy="130.00" r="2.1" fill="#ff0000"/>
<circle cx="453.50" cy="122.80" r="2.1" fill="#ff0000"/>
<circle cx="458.10" cy="115.70" r="2.1" fill="#ff0000"/>
<circle cx="463.50" cy="108.80" r="2.1" fill="#ff0000"/>
<circle cx="469.10" cy="101.90" r="2.1" fill="#ff0000"/>
<circle cx="474.50" cy="96.00" r="2.1" fill="#ff0000"/>
<circle cx="480.60" cy="89.80" r="2.1" fill="#ff0000"/>
<circle cx="486.70" cy="84.20" r="2.1" fill="#ff0000"/>
<circle cx="492.80" cy="78.90" r="2.1" fill="#ff0000"/>
<circle cx="499.00" cy="74.30" r="2.1" fill="#ff0000"/>
<circle cx="506.00" cy="70.30" r="2.1" fill="#ff0000"/>
<circle cx="513.70" cy="66.60" r="2.1" fill="#ff0000"/>
<circle cx="521.70" cy="63.80" r="2.1" fill="#ff0000"/>
<circle cx="529.10" cy="62.10" r="2.1" fill="#ff0000"/>
<circle cx="535.30" cy="61.30" r="2.1" fill="#ff0000"/>
<path d="M406.97 203.87L409.47 208.07L404.47 208.07Z" fill="#008000"/>
<path d="M408.50 200.46L411.00 204.66L406.00 204.66Z" fill="#008000"/>
<path d="M410.19 196.68L412.69 200.88L407.69 200.88Z" fill="#008000"/>
<path d="M412.00 192.63L414.50 196.83L409.50 196.83Z" fill="#008000"/>
<path d="M413.90 188.37L416.40 192.57L411.40 192.57Z" fill="#008000"/>
<path d="M415.88 183.94L418.38 188.14L413.38 188.14Z" fill="#008000"/>
<path d="M417.93 179.35L420.43 183.55L415.43 183.55Z" fill="#008000"/>
<path d="M420.04 174.64L422.54 178.84L417.54 178.84Z" fill="#008000"/>
<path d="M422.20 169.80L424.70 174.00L419.70 174.00Z" fill="#008000"/>
<path d="M427.60 158.90L430.10 163.10L425.10 163.10Z" fill="#008000"/>
<path d="M432.40 150.10L434.90 154.30L429.90 154.30Z" fill="#008000"/>
<path d="M435.00 143.70L437.50 147.90L432.50 147.90Z" fill="#008000"/>
<path d="M437.70 136.90L440.20 141.10L435.20 141.10Z" fill="#008000"/>
<path d="M443.30 129.20L445.80 133.40L440.80 133.40Z" fill="#008000"/>
<path d="M448.40 120.00L450.90 124.20L445.90 124.20Z" fill="#008000"/>
<path d="M454.00 109.80L456.50 114.00L451.50 114.00Z" fill="#008000"/>
<path d="M460.70 100.10L463.20 104.30L458.20 104.30Z" fill="#008000"/>
<path d="M466.30 91.90L468.80 96.10L463.80 96.10Z" fill="#008000"/>
<path d="M472.90 83.20L475.40 87.40L470.40 87.40Z" fill="#008000"/>
<path d="M478.00 76.60L480.50 80.80L475.50 80.80Z" fill="#008000"/>
<path d="M484.20 68.40L486.70 72.60L481.70 72.60Z" fill="#008000"/>
<path d="M490.30 62.30L492.80 66.50L487.80 66.50Z" fill="#008000"/>
<path d="M496.80 55.30L499.30 59.50L494.30 59.50Z" fill="#008000"/>
<path d="M503.00 49.40L505.50 53.60L500.50 53.60Z" fill="#008000"/>
<path d="M509.20 44.40L511.70 48.60L506.70 48.60Z" fill="#008000"/>
<path d="M516.20 39.90L518.70 44.10L513.70 44.10Z" fill="#008000"/>
<path d="M522.90 36.20L525.40 40.40L520.40 40.40Z" fill="#008000"/>
<path d="M529.80 33.00L532.30 37.20L527.30 37.20Z" fill="#008000"/>
<path d="M536.50 30.70L539.00 34.90L534.00 34.90Z" fill="#008000"/>
<path d="M543.50 28.80L546.00 33.00L541.00 33.00Z" fill="#008000"/>
<path d="M550.20 28.00L552.70 32.20L547.70 32.20Z" fill="#008000"/>
<path d="M556.40 27.50L558.90 31.70L553.90 31.70Z" fill="#008000"/>
<path d="M563.40 27.50L565.90 31.70L560.90 31.70Z" fill="#008000"/>
<path d="M568.80 29.50L571.30 33.70L566.30 33.70Z" fill="#008000"/>
<path d="M406.80 209.50L409.30 205.30L404.30 205.30Z" fill="#0000ff"/>
<path d="M407.20 206.50L409.70 202.30L404.70 202.30Z" fill="#0000ff"/>
<path d="M407.90 203.60L410.40 199.40L405.40 199.40Z" fill="#0000ff"/>
<path d="M409.00 200.70L411.50 196.50L406.50 196.50Z" fill="#0000ff"/>
<path d="M410.10 197.80L412.60 193.60L407.60 193.60Z" fill="#0000ff"/>
<path d="M411.20 194.90L413.70 190.70L408.70 190.70Z" fill="#0000ff"/>
<path d="M412.30 191.90L414.80 187.70L409.80 187.70Z" fill="#0000ff"/>
<path d="M413.80 189.00L416.30 184.80L411.30 184.80Z" fill="#0000ff"/>
<path d="M415.20 186.10L417.70 181.90L412.70 181.90Z" fill="#0000ff"/>
<path d="M416.70 183.50L419.20 179.30L414.20 179.30Z" fill="#0000ff"/>
<path d="M418.10 181.00L420.60 176.80L415.60 176.80Z" fill="#0000ff"/>
<path d="M420.30 177.00L422.80 172.80L417.80 172.80Z" fill="#0000ff"/>
<path d="M422.90 171.50L425.40 167.30L420.40 167.30Z" fill="#0000ff"/>
<path d="M425.80 165.30L428.30 161.10L423.30 161.10Z" fill="#0000ff"/>
<path d="M429.10 158.70L431.60 154.50L426.60 154.50Z" fill="#0000ff"/>
<path d="M432.40 152.50L434.90 148.30L429.90 148.30Z" fill="#0000ff"/>
<path d="M435.70 145.60L438.20 141.40L433.20 141.40Z" fill="#0000ff"/>
<path d="M439.70 137.90L442.20 133.70L437.20 133.70Z" fill="#0000ff"/>
<path d="M443.80 130.30L446.30 126.10L441.30 126.10Z" fill="#0000ff"/>
<path d="M448.40 122.60L450.90 118.40L445.90 118.40Z" fill="#0000ff"/>
<path d="M452.50 114.90L455.00 110.70L450.00 110.70Z" fill="#0000ff"/>
<path d="M457.40 107.10L459.90 102.90L454.90 102.90Z" fill="#0000ff"/>
<path d="M462.50 99.10L465.00 94.90L460.00 94.90Z" fill="#0000ff"/>
<path d="M467.80 91.40L470.30 87.20L465.30 87.20Z" fill="#0000ff"/>
<path d="M472.90 84.00L475.40 79.80L470.40 79.80Z" fill="#0000ff"/>
<path d="M478.00 77.10L480.50 72.90L475.50 72.90Z" fill="#0000ff"/>
<path d="M483.60 70.30L486.10 66.10L481.10 66.10Z" fill="#0000ff"/>
<path d="M489.30 63.30L491.80 59.10L486.80 59.10Z" fill="#0000ff"/>
<path d="M494.80 58.90L497.30 54.70L492.30 54.70Z" fill="#0000ff"/>
<path d="M500.60 52.70L503.10 48.50L498.10 48.50Z" fill="#0000ff"/>
<path d="M506.30 47.00L508.80 42.80L503.80 42.80Z" fill="#0000ff"/>
<path d="M512.20 42.00L514.70 37.80L509.70 37.80Z" fill="#0000ff"/>
<path d="M517.90 38.30L520.40 34.10L515.40 34.10Z" fill="#0000ff"/>
<path d="M524.10 34.60L526.60 30.40L521.60 30.40Z" fill="#0000ff"/>
<path d="M530.30 31.60L532.80 27.40L527.80 27.40Z" fill="#0000ff"/>
<path d="M536.50 29.10L539.00 24.90L534.00 24.90Z" fill="#0000ff"/>
<path d="M542.70 27.20L545.20 23.00L540.20 23.00Z" fill="#0000ff"/>
<path d="M549.50 25.90L552.00 21.70L547.00 21.70Z" fill="#0000ff"/>
<path d="M556.40 25.40L558.90 21.20L553.90 21.20Z" fill="#0000ff"/>
<path d="M563.80 25.90L566.30 21.70L561.30 21.70Z" fill="#0000ff"/>
<path d="M571.30 27.20L573.80 23.00L568.80 23.00Z" fill="#0000ff"/>
<text x="578.10" y="24.80" font-size="10.8">R<tspan font-size="7.3" dy="-4.1">2</tspan><tspan dy="4.1">=0.993</tspan></text>
<text x="566.30" y="47.40" font-size="10.8">R<tspan font-size="7.3" dy="-4.1">2</tspan><tspan dy="4.1">=0.991</tspan></text>
<text x="534.50" y="76.40" font-size="10.8">R<tspan font-size="7.3" dy="-4.1">2</tspan><tspan dy="4.1">=0.991</tspan></text>
<text x="508.30" y="110.60" font-size="10.8">R<tspan font-size="7.3" dy="-4.1">2</tspan><tspan dy="4.1">=0.998</tspan></text>
<text x="604.80" y="119.90" font-size="12.3" text-anchor="middle">Group 1</text><line x1="584.55" x2="625.05" y1="121.50" y2="121.50" stroke="#000" stroke-width="0.9"/>
<text x="571.50" y="136.50" font-size="12.3" text-anchor="middle">Experiment</text><line x1="543.00" x2="600.00" y1="138.10" y2="138.10" stroke="#000" stroke-width="0.9"/>
<text x="641.25" y="136.50" font-size="12.3" text-anchor="middle">Hognestad</text><line x1="615.00" x2="667.50" y1="138.10" y2="138.10" stroke="#000" stroke-width="0.9"/>
<line x1="540.8" x2="569.2" y1="148.20" y2="148.20" stroke="#000000" stroke-width="1.2"/>
<text x="603.30" y="152.40" font-size="12.3" text-anchor="end">20 °C</text>
<rect x="618.25" y="146.45" width="3.5" height="3.5" fill="#000000"/>
<text x="667.80" y="152.40" font-size="12.3" text-anchor="end">20 °C</text>
<line x1="540.8" x2="569.2" y1="163.40" y2="163.40" stroke="#ff0000" stroke-width="1.2"/>
<text x="603.30" y="167.60" font-size="12.3" text-anchor="end">-<tspan dx="-0.7">20</tspan> °C</text>
<circle cx="620.00" cy="163.40" r="2.1" fill="#ff0000"/>
<text x="667.80" y="167.60" font-size="12.3" text-anchor="end">-<tspan dx="-0.7">20</tspan> °C</text>
<line x1="540.8" x2="569.2" y1="178.50" y2="178.50" stroke="#008000" stroke-width="1.2"/>
<text x="603.30" y="182.70" font-size="12.3" text-anchor="end">-<tspan dx="-0.7">40</tspan> °C</text>
<path d="M620.00 176.20L622.50 180.40L617.50 180.40Z" fill="#008000"/>
<text x="667.80" y="182.70" font-size="12.3" text-anchor="end">-<tspan dx="-0.7">40</tspan> °C</text>
<line x1="540.8" x2="569.2" y1="194.00" y2="194.00" stroke="#0000ff" stroke-width="1.2"/>
<text x="603.30" y="198.20" font-size="12.3" text-anchor="end">-<tspan dx="-0.7">50</tspan> °C</text>
<path d="M620.00 196.30L622.50 192.10L617.50 192.10Z" fill="#0000ff"/>
<text x="667.80" y="198.20" font-size="12.3" text-anchor="end">-<tspan dx="-0.7">50</tspan> °C</text>
<path d="M38.30 266.50H307.10V470.40H38.30Z" fill="none" stroke="#000" stroke-width="1.25"/>
<path d="M32.30 470.40H38.30M35.90 444.91H38.30M32.30 419.42H38.30M35.90 393.94H38.30M32.30 368.45H38.30M35.90 342.96H38.30M32.30 317.47H38.30M35.90 291.99H38.30M32.30 266.50H38.30M38.30 470.40V476.40M71.90 470.40V472.80M105.50 470.40V476.40M139.10 470.40V472.80M172.70 470.40V476.40M206.30 470.40V472.80M239.90 470.40V476.40M273.50 470.40V472.80M307.10 470.40V476.40" stroke="#000" stroke-width="1.25" fill="none"/>
<text x="27.70" y="474.30" font-size="12.2" text-anchor="end">0</text>
<text x="27.70" y="423.32" font-size="12.2" text-anchor="end">20</text>
<text x="27.70" y="372.35" font-size="12.2" text-anchor="end">40</text>
<text x="27.70" y="321.37" font-size="12.2" text-anchor="end">60</text>
<text x="27.70" y="270.40" font-size="12.2" text-anchor="end">80</text>
<text x="38.30" y="491.00" font-size="12.2" text-anchor="middle">0.0</text>
<text x="105.50" y="491.00" font-size="12.2" text-anchor="middle">1.5</text>
<text x="172.70" y="491.00" font-size="12.2" text-anchor="middle">3.0</text>
<text x="239.90" y="491.00" font-size="12.2" text-anchor="middle">4.5</text>
<text x="307.10" y="491.00" font-size="12.2" text-anchor="middle">6.0</text>
<text x="172.90" y="508.40" font-size="12.15" text-anchor="middle">Strain (x10<tspan font-size="8.5" dy="-4.5">-3</tspan><tspan dy="4.5"> mm/mm)</tspan></text>
<text transform="translate(10.10,368.45) rotate(-90)" font-size="12.3" text-anchor="middle">Stress (MPa)</text>
<path d="M38.30 470.40 L39.00 469.52 L39.71 468.64 L40.41 467.77 L41.12 466.90 L41.82 466.04 L42.53 465.19 L43.23 464.35 L43.94 463.52 L44.64 462.69 L45.34 461.87 L46.05 461.06 L46.75 460.26 L47.46 459.48 L48.16 458.70 L48.87 457.93 L49.57 457.17 L50.27 456.42 L50.98 455.68 L51.68 454.95 L52.39 454.22 L53.09 453.49 L53.80 452.77 L54.50 452.06 L55.21 451.34 L55.91 450.63 L56.61 449.91 L57.32 449.20 L58.02 448.48 L58.73 447.76 L59.43 447.04 L60.14 446.31 L60.84 445.57 L61.55 444.83 L62.25 444.08 L62.95 443.32 L63.66 442.57 L64.36 441.81 L65.07 441.06 L65.77 440.31 L66.48 439.57 L67.18 438.83 L67.88 438.10 L68.59 437.39 L69.29 436.69 L70.00 436.01 L70.70 435.35 L71.41 434.69 L72.11 434.04 L72.82 433.40 L73.52 432.77 L74.22 432.14 L74.93 431.52 L75.63 430.90 L76.34 430.29 L77.04 429.68 L77.75 429.08 L78.45 428.49 L79.16 427.90 L79.86 427.32 L80.56 426.75 L81.27 426.18 L81.97 425.61 L82.68 425.05 L83.38 424.50 L84.09 423.95 L84.79 423.41 L85.49 422.87 L86.20 422.34 L86.90 421.81 L87.61 421.28 L88.31 420.76 L89.02 420.23 L89.72 419.71 L90.43 419.19 L91.13 418.67 L91.83 418.16 L92.54 417.65 L93.24 417.15 L93.95 416.65 L94.65 416.15 L95.36 415.66 L96.06 415.18 L96.77 414.70 L97.47 414.24 L98.17 413.78 L98.88 413.32 L99.58 412.88 L100.29 412.45 L100.99 412.03 L101.70 411.62 L102.40 411.22 L103.11 410.83 L103.81 410.45 L104.51 410.08 L105.22 409.72 L105.92 409.37 L106.63 409.02 L107.33 408.68 L108.04 408.34 L108.74 408.01 L109.44 407.69 L110.15 407.37 L110.85 407.06 L111.56 406.75 L112.26 406.44 L112.97 406.15 L113.67 405.85 L114.38 405.56 L115.08 405.28 L115.78 404.99 L116.49 404.72 L117.19 404.44 L117.90 404.17 L118.60 403.90 L119.31 403.64 L120.01 403.38 L120.72 403.12 L121.42 402.86 L122.12 402.60 L122.83 402.35 L123.53 402.09 L124.24 401.83 L124.94 401.58 L125.65 401.33 L126.35 401.08 L127.05 400.83 L127.76 400.59 L128.46 400.35 L129.17 400.11 L129.87 399.89 L130.58 399.66 L131.28 399.45 L131.99 399.24 L132.69 399.03 L133.39 398.84 L134.10 398.65 L134.80 398.48 L135.51 398.31 L136.21 398.15 L136.92 398.00 L137.62 397.86 L138.33 397.72 L139.03 397.59 L139.73 397.45 L140.44 397.32 L141.14 397.19 L141.85 397.07 L142.55 396.95 L143.26 396.84 L143.96 396.73 L144.66 396.62 L145.37 396.52 L146.07 396.42 L146.78 396.33 L147.48 396.25 L148.19 396.17 L148.89 396.10 L149.60 396.03 L150.30 395.98" fill="none" stroke="#000000" stroke-width="1.4" stroke-linejoin="round"/>
<path d="M38.30 470.40 L39.47 468.60 L40.64 466.85 L41.81 465.14 L42.98 463.49 L44.15 461.90 L45.32 460.36 L46.49 458.88 L47.65 457.46 L48.82 456.12 L49.99 454.85 L51.16 453.64 L52.33 452.46 L53.50 451.31 L54.67 450.17 L55.84 449.01 L57.01 447.83 L58.18 446.62 L59.35 445.40 L60.52 444.17 L61.69 442.95 L62.86 441.72 L64.02 440.50 L65.19 439.29 L66.36 438.09 L67.53 436.90 L68.70 435.73 L69.87 434.58 L71.04 433.43 L72.21 432.27 L73.38 431.13 L74.55 429.99 L75.72 428.86 L76.89 427.75 L78.06 426.65 L79.23 425.58 L80.40 424.53 L81.56 423.51 L82.73 422.53 L83.90 421.58 L85.07 420.64 L86.24 419.73 L87.41 418.84 L88.58 417.96 L89.75 417.10 L90.92 416.26 L92.09 415.43 L93.26 414.62 L94.43 413.82 L95.60 413.03 L96.77 412.25 L97.93 411.49 L99.10 410.74 L100.27 410.01 L101.44 409.28 L102.61 408.58 L103.78 407.88 L104.95 407.19 L106.12 406.51 L107.29 405.84 L108.46 405.17 L109.63 404.51 L110.80 403.86 L111.97 403.20 L113.14 402.55 L114.31 401.90 L115.47 401.25 L116.64 400.59 L117.81 399.93 L118.98 399.27 L120.15 398.60 L121.32 397.93 L122.49 397.26 L123.66 396.59 L124.83 395.92 L126.00 395.25 L127.17 394.59 L128.34 393.92 L129.51 393.26 L130.68 392.61 L131.84 391.96 L133.01 391.32 L134.18 390.68 L135.35 390.05 L136.52 389.43 L137.69 388.82 L138.86 388.22 L140.03 387.63 L141.20 387.05 L142.37 386.47 L143.54 385.89 L144.71 385.33 L145.88 384.77 L147.05 384.21 L148.21 383.66 L149.38 383.11 L150.55 382.57 L151.72 382.03 L152.89 381.49 L154.06 380.96 L155.23 380.44 L156.40 379.91 L157.57 379.39 L158.74 378.87 L159.91 378.36 L161.08 377.84 L162.25 377.31 L163.42 376.79 L164.59 376.27 L165.75 375.75 L166.92 375.25 L168.09 374.76 L169.26 374.29 L170.43 373.84 L171.60 373.41 L172.77 373.01 L173.94 372.64 L175.11 372.29 L176.28 371.96 L177.45 371.66 L178.62 371.38 L179.79 371.13 L180.96 370.88 L182.12 370.65 L183.29 370.42 L184.46 370.21 L185.63 370.00 L186.80 369.80 L187.97 369.61 L189.14 369.42 L190.31 369.24 L191.48 369.06 L192.65 368.89 L193.82 368.72 L194.99 368.56 L196.16 368.40 L197.33 368.24 L198.50 368.09 L199.66 367.94 L200.83 367.79 L202.00 367.64 L203.17 367.49 L204.34 367.34 L205.51 367.19 L206.68 367.03 L207.85 366.88 L209.02 366.72 L210.19 366.56 L211.36 366.40 L212.53 366.24 L213.70 366.08 L214.87 365.92 L216.03 365.76 L217.20 365.60 L218.37 365.44 L219.54 365.27 L220.71 365.11 L221.88 364.95 L223.05 364.79 L224.22 364.63" fill="none" stroke="#ff0000" stroke-width="1.4" stroke-linejoin="round"/>
<path d="M38.30 470.40 L39.88 468.19 L41.46 466.04 L43.04 463.95 L44.62 461.93 L46.20 459.97 L47.78 458.09 L49.36 456.28 L50.95 454.57 L52.53 452.91 L54.11 451.29 L55.69 449.69 L57.27 448.07 L58.85 446.45 L60.43 444.83 L62.01 443.23 L63.59 441.64 L65.17 440.05 L66.75 438.48 L68.33 436.91 L69.91 435.35 L71.49 433.80 L73.07 432.25 L74.66 430.70 L76.24 429.16 L77.82 427.63 L79.40 426.11 L80.98 424.61 L82.56 423.12 L84.14 421.65 L85.72 420.19 L87.30 418.74 L88.88 417.28 L90.46 415.84 L92.04 414.43 L93.62 413.03 L95.20 411.68 L96.79 410.37 L98.37 409.11 L99.95 407.88 L101.53 406.68 L103.11 405.51 L104.69 404.36 L106.27 403.23 L107.85 402.12 L109.43 401.02 L111.01 399.94 L112.59 398.88 L114.17 397.82 L115.75 396.77 L117.33 395.72 L118.91 394.68 L120.50 393.64 L122.08 392.60 L123.66 391.57 L125.24 390.54 L126.82 389.53 L128.40 388.53 L129.98 387.54 L131.56 386.57 L133.14 385.62 L134.72 384.68 L136.30 383.77 L137.88 382.89 L139.46 382.03 L141.04 381.20 L142.62 380.40 L144.21 379.62 L145.79 378.85 L147.37 378.10 L148.95 377.36 L150.53 376.63 L152.11 375.90 L153.69 375.17 L155.27 374.43 L156.85 373.69 L158.43 372.93 L160.01 372.16 L161.59 371.38 L163.17 370.60 L164.75 369.81 L166.34 369.03 L167.92 368.24 L169.50 367.46 L171.08 366.69 L172.66 365.92 L174.24 365.17 L175.82 364.42 L177.40 363.67 L178.98 362.92 L180.56 362.16 L182.14 361.40 L183.72 360.64 L185.30 359.89 L186.88 359.14 L188.46 358.42 L190.05 357.71 L191.63 356.99 L193.21 356.27 L194.79 355.55 L196.37 354.84 L197.95 354.14 L199.53 353.45 L201.11 352.77 L202.69 352.11 L204.27 351.47 L205.85 350.86 L207.43 350.28 L209.01 349.73 L210.59 349.21 L212.17 348.72 L213.76 348.24 L215.34 347.79 L216.92 347.35 L218.50 346.92 L220.08 346.50 L221.66 346.10 L223.24 345.69 L224.82 345.30 L226.40 344.90 L227.98 344.50 L229.56 344.10 L231.14 343.70 L232.72 343.29 L234.30 342.87 L235.88 342.46 L237.47 342.04 L239.05 341.63 L240.63 341.23 L242.21 340.84 L243.79 340.46 L245.37 340.10 L246.95 339.76 L248.53 339.45 L250.11 339.16 L251.69 338.89 L253.27 338.62 L254.85 338.37 L256.43 338.13 L258.01 337.90 L259.60 337.68 L261.18 337.46 L262.76 337.26 L264.34 337.06 L265.92 336.87 L267.50 336.69 L269.08 336.52 L270.66 336.35 L272.24 336.19 L273.82 336.04 L275.40 335.89 L276.98 335.74 L278.56 335.60 L280.14 335.47 L281.72 335.34 L283.31 335.22 L284.89 335.10 L286.47 335.00 L288.05 334.90 L289.63 334.81" fill="none" stroke="#008000" stroke-width="1.4" stroke-linejoin="round"/>
<rect x="40.25" y="463.85" width="3.5" height="3.5" fill="#000000"/>
<rect x="45.45" y="458.65" width="3.5" height="3.5" fill="#000000"/>
<rect x="50.95" y="452.45" width="3.5" height="3.5" fill="#000000"/>
<rect x="58.35" y="445.75" width="3.5" height="3.5" fill="#000000"/>
<rect x="63.85" y="440.25" width="3.5" height="3.5" fill="#000000"/>
<rect x="68.95" y="434.65" width="3.5" height="3.5" fill="#000000"/>
<rect x="73.75" y="430.25" width="3.5" height="3.5" fill="#000000"/>
<rect x="78.75" y="425.95" width="3.5" height="3.5" fill="#000000"/>
<rect x="84.85" y="420.85" width="3.5" height="3.5" fill="#000000"/>
<rect x="95.15" y="413.65" width="3.5" height="3.5" fill="#000000"/>
<rect x="102.05" y="409.15" width="3.5" height="3.5" fill="#000000"/>
<rect x="112.25" y="403.05" width="3.5" height="3.5" fill="#000000"/>
<rect x="124.55" y="398.55" width="3.5" height="3.5" fill="#000000"/>
<rect x="135.95" y="395.85" width="3.5" height="3.5" fill="#000000"/>
<rect x="148.25" y="394.85" width="3.5" height="3.5" fill="#000000"/>
<circle cx="41.50" cy="467.20" r="2.1" fill="#ff0000"/>
<circle cx="46.20" cy="463.40" r="2.1" fill="#ff0000"/>
<circle cx="53.30" cy="457.90" r="2.1" fill="#ff0000"/>
<circle cx="60.50" cy="451.60" r="2.1" fill="#ff0000"/>
<circle cx="68.70" cy="445.00" r="2.1" fill="#ff0000"/>
<circle cx="77.40" cy="438.30" r="2.1" fill="#ff0000"/>
<circle cx="85.00" cy="432.20" r="2.1" fill="#ff0000"/>
<circle cx="93.60" cy="425.60" r="2.1" fill="#ff0000"/>
<circle cx="102.40" cy="418.50" r="2.1" fill="#ff0000"/>
<circle cx="112.00" cy="411.30" r="2.1" fill="#ff0000"/>
<circle cx="122.20" cy="403.50" r="2.1" fill="#ff0000"/>
<circle cx="130.00" cy="398.60" r="2.1" fill="#ff0000"/>
<circle cx="142.60" cy="389.90" r="2.1" fill="#ff0000"/>
<circle cx="152.90" cy="384.10" r="2.1" fill="#ff0000"/>
<circle cx="162.70" cy="379.00" r="2.1" fill="#ff0000"/>
<circle cx="173.50" cy="373.80" r="2.1" fill="#ff0000"/>
<circle cx="185.90" cy="369.10" r="2.1" fill="#ff0000"/>
<circle cx="199.60" cy="365.80" r="2.1" fill="#ff0000"/>
<circle cx="211.90" cy="363.80" r="2.1" fill="#ff0000"/>
<circle cx="224.20" cy="362.90" r="2.1" fill="#ff0000"/>
<path d="M42.10 464.60L44.60 468.80L39.60 468.80Z" fill="#008000"/>
<path d="M51.30 458.10L53.80 462.30L48.80 462.30Z" fill="#008000"/>
<path d="M58.40 453.00L60.90 457.20L55.90 457.20Z" fill="#008000"/>
<path d="M65.60 447.80L68.10 452.00L63.10 452.00Z" fill="#008000"/>
<path d="M73.80 442.10L76.30 446.30L71.30 446.30Z" fill="#008000"/>
<path d="M80.90 437.00L83.40 441.20L78.40 441.20Z" fill="#008000"/>
<path d="M89.50 431.10L92.00 435.30L87.00 435.30Z" fill="#008000"/>
<path d="M97.70 425.40L100.20 429.60L95.20 429.60Z" fill="#008000"/>
<path d="M108.50 418.20L111.00 422.40L106.00 422.40Z" fill="#008000"/>
<path d="M116.10 413.10L118.60 417.30L113.60 417.30Z" fill="#008000"/>
<path d="M127.30 405.30L129.80 409.50L124.80 409.50Z" fill="#008000"/>
<path d="M137.50 398.20L140.00 402.40L135.00 402.40Z" fill="#008000"/>
<path d="M149.00 391.00L151.50 395.20L146.50 395.20Z" fill="#008000"/>
<path d="M158.60 384.50L161.10 388.70L156.10 388.70Z" fill="#008000"/>
<path d="M170.70 377.30L173.20 381.50L168.20 381.50Z" fill="#008000"/>
<path d="M182.30 370.30L184.80 374.50L179.80 374.50Z" fill="#008000"/>
<path d="M194.10 363.50L196.60 367.70L191.60 367.70Z" fill="#008000"/>
<path d="M206.40 357.40L208.90 361.60L203.90 361.60Z" fill="#008000"/>
<path d="M219.00 351.20L221.50 355.40L216.50 355.40Z" fill="#008000"/>
<path d="M229.70 346.70L232.20 350.90L227.20 350.90Z" fill="#008000"/>
<path d="M240.50 343.10L243.00 347.30L238.00 347.30Z" fill="#008000"/>
<path d="M252.80 339.60L255.30 343.80L250.30 343.80Z" fill="#008000"/>
<path d="M268.50 336.10L271.00 340.30L266.00 340.30Z" fill="#008000"/>
<path d="M279.30 335.10L281.80 339.30L276.80 339.30Z" fill="#008000"/>
<path d="M289.60 334.90L292.10 339.10L287.10 339.10Z" fill="#008000"/>
<text x="258.50" y="327.60" font-size="10.8">R<tspan font-size="7.3" dy="-4.1">2</tspan><tspan dy="4.1">=0.972</tspan></text>
<text x="230.90" y="367.00" font-size="10.8">R<tspan font-size="7.3" dy="-4.1">2</tspan><tspan dy="4.1">=0.987</tspan></text>
<text x="128.60" y="423.20" font-size="10.8">R<tspan font-size="7.3" dy="-4.1">2</tspan><tspan dy="4.1">=0.998</tspan></text>
<text x="237.90" y="400.10" font-size="12.3" text-anchor="middle">Group 2</text><line x1="217.65" x2="258.15" y1="401.70" y2="401.70" stroke="#000" stroke-width="0.9"/>
<text x="206.70" y="417.00" font-size="12.3" text-anchor="middle">Experiment</text><line x1="178.20" x2="235.20" y1="418.60" y2="418.60" stroke="#000" stroke-width="0.9"/>
<text x="275.40" y="417.00" font-size="12.3" text-anchor="middle">Popovics</text><line x1="252.65" x2="298.15" y1="418.60" y2="418.60" stroke="#000" stroke-width="0.9"/>
<line x1="175.4" x2="203.8" y1="428.10" y2="428.10" stroke="#000000" stroke-width="1.2"/>
<text x="237.40" y="432.30" font-size="12.3" text-anchor="end">20 °C</text>
<rect x="252.85" y="426.35" width="3.5" height="3.5" fill="#000000"/>
<text x="300.00" y="432.30" font-size="12.3" text-anchor="end">20 °C</text>
<line x1="175.4" x2="203.8" y1="443.30" y2="443.30" stroke="#ff0000" stroke-width="1.2"/>
<text x="237.40" y="447.50" font-size="12.3" text-anchor="end">-<tspan dx="-0.7">20</tspan> °C</text>
<circle cx="254.60" cy="443.30" r="2.1" fill="#ff0000"/>
<text x="300.00" y="447.50" font-size="12.3" text-anchor="end">-<tspan dx="-0.7">20</tspan> °C</text>
<line x1="175.4" x2="203.8" y1="458.30" y2="458.30" stroke="#008000" stroke-width="1.2"/>
<text x="237.40" y="462.50" font-size="12.3" text-anchor="end">-<tspan dx="-0.7">40</tspan> °C</text>
<path d="M254.60 456.00L257.10 460.20L252.10 460.20Z" fill="#008000"/>
<text x="300.00" y="462.50" font-size="12.3" text-anchor="end">-<tspan dx="-0.7">40</tspan> °C</text>
<path d="M408.50 266.50H677.30V470.40H408.50Z" fill="none" stroke="#000" stroke-width="1.25"/>
<path d="M402.50 470.40H408.50M406.10 444.91H408.50M402.50 419.42H408.50M406.10 393.94H408.50M402.50 368.45H408.50M406.10 342.96H408.50M402.50 317.47H408.50M406.10 291.99H408.50M402.50 266.50H408.50M408.50 470.40V476.40M442.10 470.40V472.80M475.70 470.40V476.40M509.30 470.40V472.80M542.90 470.40V476.40M576.50 470.40V472.80M610.10 470.40V476.40M643.70 470.40V472.80M677.30 470.40V476.40" stroke="#000" stroke-width="1.25" fill="none"/>
<text x="397.90" y="474.30" font-size="12.2" text-anchor="end">0</text>
<text x="397.90" y="423.32" font-size="12.2" text-anchor="end">20</text>
<text x="397.90" y="372.35" font-size="12.2" text-anchor="end">40</text>
<text x="397.90" y="321.37" font-size="12.2" text-anchor="end">60</text>
<text x="397.90" y="270.40" font-size="12.2" text-anchor="end">80</text>
<text x="408.50" y="491.00" font-size="12.2" text-anchor="middle">0.0</text>
<text x="475.70" y="491.00" font-size="12.2" text-anchor="middle">1.5</text>
<text x="542.90" y="491.00" font-size="12.2" text-anchor="middle">3.0</text>
<text x="610.10" y="491.00" font-size="12.2" text-anchor="middle">4.5</text>
<text x="677.30" y="491.00" font-size="12.2" text-anchor="middle">6.0</text>
<text x="543.10" y="508.40" font-size="12.15" text-anchor="middle">Strain (x10<tspan font-size="8.5" dy="-4.5">-3</tspan><tspan dy="4.5"> mm/mm)</tspan></text>
<text transform="translate(380.30,368.45) rotate(-90)" font-size="12.3" text-anchor="middle">Stress (MPa)</text>
<path d="M408.50 470.40 L409.20 469.52 L409.91 468.64 L410.61 467.77 L411.32 466.90 L412.02 466.04 L412.73 465.19 L413.43 464.35 L414.14 463.52 L414.84 462.69 L415.54 461.87 L416.25 461.06 L416.95 460.26 L417.66 459.48 L418.36 458.70 L419.07 457.93 L419.77 457.17 L420.47 456.42 L421.18 455.68 L421.88 454.95 L422.59 454.22 L423.29 453.49 L424.00 452.77 L424.70 452.06 L425.41 451.34 L426.11 450.63 L426.81 449.91 L427.52 449.20 L428.22 448.48 L428.93 447.76 L429.63 447.04 L430.34 446.31 L431.04 445.57 L431.75 444.83 L432.45 444.08 L433.15 443.32 L433.86 442.57 L434.56 441.81 L435.27 441.06 L435.97 440.31 L436.68 439.57 L437.38 438.83 L438.08 438.10 L438.79 437.39 L439.49 436.69 L440.20 436.01 L440.90 435.35 L441.61 434.69 L442.31 434.04 L443.02 433.40 L443.72 432.77 L444.42 432.14 L445.13 431.52 L445.83 430.90 L446.54 430.29 L447.24 429.68 L447.95 429.08 L448.65 428.49 L449.36 427.90 L450.06 427.32 L450.76 426.75 L451.47 426.18 L452.17 425.61 L452.88 425.05 L453.58 424.50 L454.29 423.95 L454.99 423.41 L455.69 422.87 L456.40 422.34 L457.10 421.81 L457.81 421.28 L458.51 420.76 L459.22 420.23 L459.92 419.71 L460.63 419.19 L461.33 418.67 L462.03 418.16 L462.74 417.65 L463.44 417.15 L464.15 416.65 L464.85 416.15 L465.56 415.66 L466.26 415.18 L466.97 414.70 L467.67 414.24 L468.37 413.78 L469.08 413.32 L469.78 412.88 L470.49 412.45 L471.19 412.03 L471.90 411.62 L472.60 411.22 L473.31 410.83 L474.01 410.45 L474.71 410.08 L475.42 409.72 L476.12 409.37 L476.83 409.02 L477.53 408.68 L478.24 408.34 L478.94 408.01 L479.64 407.69 L480.35 407.37 L481.05 407.06 L481.76 406.75 L482.46 406.44 L483.17 406.15 L483.87 405.85 L484.58 405.56 L485.28 405.28 L485.98 404.99 L486.69 404.72 L487.39 404.44 L488.10 404.17 L488.80 403.90 L489.51 403.64 L490.21 403.38 L490.92 403.12 L491.62 402.86 L492.32 402.60 L493.03 402.35 L493.73 402.09 L494.44 401.83 L495.14 401.58 L495.85 401.33 L496.55 401.08 L497.25 400.83 L497.96 400.59 L498.66 400.35 L499.37 400.11 L500.07 399.89 L500.78 399.66 L501.48 399.45 L502.19 399.24 L502.89 399.03 L503.59 398.84 L504.30 398.65 L505.00 398.48 L505.71 398.31 L506.41 398.15 L507.12 398.00 L507.82 397.86 L508.53 397.72 L509.23 397.59 L509.93 397.45 L510.64 397.32 L511.34 397.19 L512.05 397.07 L512.75 396.95 L513.46 396.84 L514.16 396.73 L514.86 396.62 L515.57 396.52 L516.27 396.42 L516.98 396.33 L517.68 396.25 L518.39 396.17 L519.09 396.10 L519.80 396.03 L520.50 395.98" fill="none" stroke="#000000" stroke-width="1.4" stroke-linejoin="round"/>
<path d="M408.50 470.40 L409.67 468.60 L410.84 466.85 L412.01 465.14 L413.18 463.49 L414.35 461.90 L415.52 460.36 L416.69 458.88 L417.85 457.46 L419.02 456.12 L420.19 454.85 L421.36 453.64 L422.53 452.46 L423.70 451.31 L424.87 450.17 L426.04 449.01 L427.21 447.83 L428.38 446.62 L429.55 445.40 L430.72 444.17 L431.89 442.95 L433.06 441.72 L434.22 440.50 L435.39 439.29 L436.56 438.09 L437.73 436.90 L438.90 435.73 L440.07 434.58 L441.24 433.43 L442.41 432.27 L443.58 431.13 L444.75 429.99 L445.92 428.86 L447.09 427.75 L448.26 426.65 L449.43 425.58 L450.60 424.53 L451.76 423.51 L452.93 422.53 L454.10 421.58 L455.27 420.64 L456.44 419.73 L457.61 418.84 L458.78 417.96 L459.95 417.10 L461.12 416.26 L462.29 415.43 L463.46 414.62 L464.63 413.82 L465.80 413.03 L466.97 412.25 L468.13 411.49 L469.30 410.74 L470.47 410.01 L471.64 409.28 L472.81 408.58 L473.98 407.88 L475.15 407.19 L476.32 406.51 L477.49 405.84 L478.66 405.17 L479.83 404.51 L481.00 403.86 L482.17 403.20 L483.34 402.55 L484.51 401.90 L485.67 401.25 L486.84 400.59 L488.01 399.93 L489.18 399.27 L490.35 398.60 L491.52 397.93 L492.69 397.26 L493.86 396.59 L495.03 395.92 L496.20 395.25 L497.37 394.59 L498.54 393.92 L499.71 393.26 L500.88 392.61 L502.04 391.96 L503.21 391.32 L504.38 390.68 L505.55 390.05 L506.72 389.43 L507.89 388.82 L509.06 388.22 L510.23 387.63 L511.40 387.05 L512.57 386.47 L513.74 385.89 L514.91 385.33 L516.08 384.77 L517.25 384.21 L518.41 383.66 L519.58 383.11 L520.75 382.57 L521.92 382.03 L523.09 381.49 L524.26 380.96 L525.43 380.44 L526.60 379.91 L527.77 379.39 L528.94 378.87 L530.11 378.36 L531.28 377.84 L532.45 377.31 L533.62 376.79 L534.79 376.27 L535.95 375.75 L537.12 375.25 L538.29 374.76 L539.46 374.29 L540.63 373.84 L541.80 373.41 L542.97 373.01 L544.14 372.64 L545.31 372.29 L546.48 371.96 L547.65 371.66 L548.82 371.38 L549.99 371.13 L551.16 370.88 L552.32 370.65 L553.49 370.42 L554.66 370.21 L555.83 370.00 L557.00 369.80 L558.17 369.61 L559.34 369.42 L560.51 369.24 L561.68 369.06 L562.85 368.89 L564.02 368.72 L565.19 368.56 L566.36 368.40 L567.53 368.24 L568.70 368.09 L569.86 367.94 L571.03 367.79 L572.20 367.64 L573.37 367.49 L574.54 367.34 L575.71 367.19 L576.88 367.03 L578.05 366.88 L579.22 366.72 L580.39 366.56 L581.56 366.40 L582.73 366.24 L583.90 366.08 L585.07 365.92 L586.23 365.76 L587.40 365.60 L588.57 365.44 L589.74 365.27 L590.91 365.11 L592.08 364.95 L593.25 364.79 L594.42 364.63" fill="none" stroke="#ff0000" stroke-width="1.4" stroke-linejoin="round"/>
<path d="M408.50 470.40 L410.08 468.19 L411.66 466.04 L413.24 463.95 L414.82 461.93 L416.40 459.97 L417.98 458.09 L419.56 456.28 L421.15 454.57 L422.73 452.91 L424.31 451.29 L425.89 449.69 L427.47 448.07 L429.05 446.45 L430.63 444.83 L432.21 443.23 L433.79 441.64 L435.37 440.05 L436.95 438.48 L438.53 436.91 L440.11 435.35 L441.69 433.80 L443.27 432.25 L444.86 430.70 L446.44 429.16 L448.02 427.63 L449.60 426.11 L451.18 424.61 L452.76 423.12 L454.34 421.65 L455.92 420.19 L457.50 418.74 L459.08 417.28 L460.66 415.84 L462.24 414.43 L463.82 413.03 L465.40 411.68 L466.99 410.37 L468.57 409.11 L470.15 407.88 L471.73 406.68 L473.31 405.51 L474.89 404.36 L476.47 403.23 L478.05 402.12 L479.63 401.02 L481.21 399.94 L482.79 398.88 L484.37 397.82 L485.95 396.77 L487.53 395.72 L489.11 394.68 L490.70 393.64 L492.28 392.60 L493.86 391.57 L495.44 390.54 L497.02 389.53 L498.60 388.53 L500.18 387.54 L501.76 386.57 L503.34 385.62 L504.92 384.68 L506.50 383.77 L508.08 382.89 L509.66 382.03 L511.24 381.20 L512.82 380.40 L514.41 379.62 L515.99 378.85 L517.57 378.10 L519.15 377.36 L520.73 376.63 L522.31 375.90 L523.89 375.17 L525.47 374.43 L527.05 373.69 L528.63 372.93 L530.21 372.16 L531.79 371.38 L533.37 370.60 L534.95 369.81 L536.54 369.03 L538.12 368.24 L539.70 367.46 L541.28 366.69 L542.86 365.92 L544.44 365.17 L546.02 364.42 L547.60 363.67 L549.18 362.92 L550.76 362.16 L552.34 361.40 L553.92 360.64 L555.50 359.89 L557.08 359.14 L558.66 358.42 L560.25 357.71 L561.83 356.99 L563.41 356.27 L564.99 355.55 L566.57 354.84 L568.15 354.14 L569.73 353.45 L571.31 352.77 L572.89 352.11 L574.47 351.47 L576.05 350.86 L577.63 350.28 L579.21 349.73 L580.79 349.21 L582.37 348.72 L583.96 348.24 L585.54 347.79 L587.12 347.35 L588.70 346.92 L590.28 346.50 L591.86 346.10 L593.44 345.69 L595.02 345.30 L596.60 344.90 L598.18 344.50 L599.76 344.10 L601.34 343.70 L602.92 343.29 L604.50 342.87 L606.08 342.46 L607.67 342.04 L609.25 341.63 L610.83 341.23 L612.41 340.84 L613.99 340.46 L615.57 340.10 L617.15 339.76 L618.73 339.45 L620.31 339.16 L621.89 338.89 L623.47 338.62 L625.05 338.37 L626.63 338.13 L628.21 337.90 L629.80 337.68 L631.38 337.46 L632.96 337.26 L634.54 337.06 L636.12 336.87 L637.70 336.69 L639.28 336.52 L640.86 336.35 L642.44 336.19 L644.02 336.04 L645.60 335.89 L647.18 335.74 L648.76 335.60 L650.34 335.47 L651.92 335.34 L653.51 335.22 L655.09 335.10 L656.67 335.00 L658.25 334.90 L659.83 334.81" fill="none" stroke="#008000" stroke-width="1.4" stroke-linejoin="round"/>
<rect x="411.45" y="462.25" width="3.5" height="3.5" fill="#000000"/>
<rect x="415.55" y="458.25" width="3.5" height="3.5" fill="#000000"/>
<rect x="421.65" y="451.45" width="3.5" height="3.5" fill="#000000"/>
<rect x="427.75" y="443.25" width="3.5" height="3.5" fill="#000000"/>
<rect x="433.95" y="437.55" width="3.5" height="3.5" fill="#000000"/>
<rect x="439.65" y="432.05" width="3.5" height="3.5" fill="#000000"/>
<rect x="448.65" y="424.85" width="3.5" height="3.5" fill="#000000"/>
<rect x="454.35" y="419.75" width="3.5" height="3.5" fill="#000000"/>
<rect x="463.55" y="413.25" width="3.5" height="3.5" fill="#000000"/>
<rect x="471.75" y="408.55" width="3.5" height="3.5" fill="#000000"/>
<rect x="482.95" y="403.85" width="3.5" height="3.5" fill="#000000"/>
<rect x="495.25" y="399.35" width="3.5" height="3.5" fill="#000000"/>
<rect x="506.45" y="396.65" width="3.5" height="3.5" fill="#000000"/>
<rect x="518.75" y="394.85" width="3.5" height="3.5" fill="#000000"/>
<circle cx="410.10" cy="466.40" r="2.1" fill="#ff0000"/>
<circle cx="416.20" cy="460.40" r="2.1" fill="#ff0000"/>
<circle cx="423.80" cy="453.80" r="2.1" fill="#ff0000"/>
<circle cx="431.20" cy="446.50" r="2.1" fill="#ff0000"/>
<circle cx="439.30" cy="437.90" r="2.1" fill="#ff0000"/>
<circle cx="447.50" cy="430.10" r="2.1" fill="#ff0000"/>
<circle cx="455.70" cy="423.60" r="2.1" fill="#ff0000"/>
<circle cx="464.30" cy="416.40" r="2.1" fill="#ff0000"/>
<circle cx="473.50" cy="409.30" r="2.1" fill="#ff0000"/>
<circle cx="482.70" cy="403.10" r="2.1" fill="#ff0000"/>
<circle cx="492.90" cy="396.00" r="2.1" fill="#ff0000"/>
<circle cx="500.00" cy="392.50" r="2.1" fill="#ff0000"/>
<circle cx="512.90" cy="385.20" r="2.1" fill="#ff0000"/>
<circle cx="523.10" cy="379.60" r="2.1" fill="#ff0000"/>
<circle cx="533.30" cy="375.50" r="2.1" fill="#ff0000"/>
<circle cx="544.20" cy="371.50" r="2.1" fill="#ff0000"/>
<circle cx="556.40" cy="367.90" r="2.1" fill="#ff0000"/>
<circle cx="569.70" cy="365.40" r="2.1" fill="#ff0000"/>
<circle cx="582.00" cy="364.00" r="2.1" fill="#ff0000"/>
<circle cx="594.60" cy="363.40" r="2.1" fill="#ff0000"/>
<path d="M413.20 463.20L415.70 467.40L410.70 467.40Z" fill="#008000"/>
<path d="M421.30 454.40L423.80 458.60L418.80 458.60Z" fill="#008000"/>
<path d="M429.10 447.20L431.60 451.40L426.60 451.40Z" fill="#008000"/>
<path d="M435.20 441.30L437.70 445.50L432.70 445.50Z" fill="#008000"/>
<path d="M443.80 433.10L446.30 437.30L441.30 437.30Z" fill="#008000"/>
<path d="M451.60 426.40L454.10 430.60L449.10 430.60Z" fill="#008000"/>
<path d="M459.80 419.20L462.30 423.40L457.30 423.40Z" fill="#008000"/>
<path d="M468.40 412.70L470.90 416.90L465.90 416.90Z" fill="#008000"/>
<path d="M477.60 405.90L480.10 410.10L475.10 410.10Z" fill="#008000"/>
<path d="M486.70 399.80L489.20 404.00L484.20 404.00Z" fill="#008000"/>
<path d="M496.60 393.70L499.10 397.90L494.10 397.90Z" fill="#008000"/>
<path d="M507.20 385.50L509.70 389.70L504.70 389.70Z" fill="#008000"/>
<path d="M517.40 378.40L519.90 382.60L514.90 382.60Z" fill="#008000"/>
<path d="M527.60 371.80L530.10 376.00L525.10 376.00Z" fill="#008000"/>
<path d="M539.00 366.20L541.50 370.40L536.50 370.40Z" fill="#008000"/>
<path d="M551.30 360.00L553.80 364.20L548.80 364.20Z" fill="#008000"/>
<path d="M563.60 354.90L566.10 359.10L561.10 359.10Z" fill="#008000"/>
<path d="M575.80 350.40L578.30 354.60L573.30 354.60Z" fill="#008000"/>
<path d="M589.10 345.70L591.60 349.90L586.60 349.90Z" fill="#008000"/>
<path d="M599.30 343.10L601.80 347.30L596.80 347.30Z" fill="#008000"/>
<path d="M610.60 340.20L613.10 344.40L608.10 344.40Z" fill="#008000"/>
<path d="M622.80 338.00L625.30 342.20L620.30 342.20Z" fill="#008000"/>
<path d="M638.20 335.50L640.70 339.70L635.70 339.70Z" fill="#008000"/>
<path d="M649.40 335.10L651.90 339.30L646.90 339.30Z" fill="#008000"/>
<path d="M659.20 334.50L661.70 338.70L656.70 338.70Z" fill="#008000"/>
<text x="629.00" y="327.20" font-size="10.8">R<tspan font-size="7.3" dy="-4.1">2</tspan><tspan dy="4.1">=0.995</tspan></text>
<text x="601.60" y="367.00" font-size="10.8">R<tspan font-size="7.3" dy="-4.1">2</tspan><tspan dy="4.1">=0.998</tspan></text>
<text x="492.50" y="414.40" font-size="10.8">R<tspan font-size="7.3" dy="-4.1">2</tspan><tspan dy="4.1">=0.998</tspan></text>
<text x="609.55" y="400.10" font-size="12.3" text-anchor="middle">Group 2</text><line x1="589.30" x2="629.80" y1="401.70" y2="401.70" stroke="#000" stroke-width="0.9"/>
<text x="574.60" y="417.00" font-size="12.3" text-anchor="middle">Experiment</text><line x1="546.10" x2="603.10" y1="418.60" y2="418.60" stroke="#000" stroke-width="0.9"/>
<text x="647.20" y="417.00" font-size="12.3" text-anchor="middle">Hognestad</text><line x1="620.95" x2="673.45" y1="418.60" y2="418.60" stroke="#000" stroke-width="0.9"/>
<line x1="547" x2="575.8" y1="428.10" y2="428.10" stroke="#000000" stroke-width="1.2"/>
<text x="609.40" y="432.30" font-size="12.3" text-anchor="end">20 °C</text>
<rect x="624.35" y="426.35" width="3.5" height="3.5" fill="#000000"/>
<text x="672.00" y="432.30" font-size="12.3" text-anchor="end">20 °C</text>
<line x1="547" x2="575.8" y1="443.30" y2="443.30" stroke="#ff0000" stroke-width="1.2"/>
<text x="609.40" y="447.50" font-size="12.3" text-anchor="end">-<tspan dx="-0.7">20</tspan> °C</text>
<circle cx="626.10" cy="443.30" r="2.1" fill="#ff0000"/>
<text x="672.00" y="447.50" font-size="12.3" text-anchor="end">-<tspan dx="-0.7">20</tspan> °C</text>
<line x1="547" x2="575.8" y1="458.30" y2="458.30" stroke="#008000" stroke-width="1.2"/>
<text x="609.40" y="462.50" font-size="12.3" text-anchor="end">-<tspan dx="-0.7">40</tspan> °C</text>
<path d="M626.10 456.00L628.60 460.20L623.60 460.20Z" fill="#008000"/>
<text x="672.00" y="462.50" font-size="12.3" text-anchor="end">-<tspan dx="-0.7">40</tspan> °C</text>
<path d="M38.30 527.50H307.10V731.40H38.30Z" fill="none" stroke="#000" stroke-width="1.25"/>
<path d="M32.30 731.40H38.30M35.90 705.91H38.30M32.30 680.42H38.30M35.90 654.94H38.30M32.30 629.45H38.30M35.90 603.96H38.30M32.30 578.47H38.30M35.90 552.99H38.30M32.30 527.50H38.30M38.30 731.40V737.40M71.90 731.40V733.80M105.50 731.40V737.40M139.10 731.40V733.80M172.70 731.40V737.40M206.30 731.40V733.80M239.90 731.40V737.40M273.50 731.40V733.80M307.10 731.40V737.40" stroke="#000" stroke-width="1.25" fill="none"/>
<text x="27.70" y="735.30" font-size="12.2" text-anchor="end">0</text>
<text x="27.70" y="684.32" font-size="12.2" text-anchor="end">20</text>
<text x="27.70" y="633.35" font-size="12.2" text-anchor="end">40</text>
<text x="27.70" y="582.37" font-size="12.2" text-anchor="end">60</text>
<text x="27.70" y="531.40" font-size="12.2" text-anchor="end">80</text>
<text x="38.30" y="752.00" font-size="12.2" text-anchor="middle">0.0</text>
<text x="105.50" y="752.00" font-size="12.2" text-anchor="middle">1.5</text>
<text x="172.70" y="752.00" font-size="12.2" text-anchor="middle">3.0</text>
<text x="239.90" y="752.00" font-size="12.2" text-anchor="middle">4.5</text>
<text x="307.10" y="752.00" font-size="12.2" text-anchor="middle">6.0</text>
<text x="172.90" y="769.40" font-size="12.15" text-anchor="middle">Strain (x10<tspan font-size="8.5" dy="-4.5">-3</tspan><tspan dy="4.5"> mm/mm)</tspan></text>
<text transform="translate(10.10,629.45) rotate(-90)" font-size="12.3" text-anchor="middle">Stress (MPa)</text>
<path d="M38.30 731.40 L39.03 730.49 L39.75 729.55 L40.48 728.59 L41.21 727.61 L41.93 726.61 L42.66 725.59 L43.39 724.55 L44.12 723.50 L44.84 722.42 L45.57 721.33 L46.30 720.22 L47.02 719.09 L47.75 717.92 L48.48 716.70 L49.20 715.45 L49.93 714.17 L50.66 712.87 L51.38 711.56 L52.11 710.24 L52.84 708.94 L53.57 707.64 L54.29 706.38 L55.02 705.14 L55.75 703.94 L56.47 702.76 L57.20 701.59 L57.93 700.44 L58.65 699.29 L59.38 698.15 L60.11 697.02 L60.84 695.90 L61.56 694.78 L62.29 693.67 L63.02 692.56 L63.74 691.45 L64.47 690.34 L65.20 689.24 L65.92 688.15 L66.65 687.07 L67.38 686.00 L68.10 684.93 L68.83 683.85 L69.56 682.77 L70.29 681.69 L71.01 680.59 L71.74 679.47 L72.47 678.34 L73.19 677.19 L73.92 676.03 L74.65 674.87 L75.37 673.71 L76.10 672.56 L76.83 671.43 L77.55 670.31 L78.28 669.20 L79.01 668.08 L79.74 666.96 L80.46 665.85 L81.19 664.74 L81.92 663.65 L82.64 662.56 L83.37 661.49 L84.10 660.44 L84.82 659.41 L85.55 658.41 L86.28 657.43 L87.01 656.49 L87.73 655.58 L88.46 654.69 L89.19 653.83 L89.91 652.97 L90.64 652.11 L91.37 651.24 L92.09 650.36 L92.82 649.45 L93.55 648.52 L94.27 647.58 L95.00 646.63 L95.73 645.68 L96.46 644.72 L97.18 643.76 L97.91 642.80 L98.64 641.84 L99.36 640.88 L100.09 639.94 L100.82 639.00 L101.54 638.07 L102.27 637.16 L103.00 636.25 L103.72 635.33 L104.45 634.42 L105.18 633.50 L105.91 632.59 L106.63 631.68 L107.36 630.78 L108.09 629.89 L108.81 629.00 L109.54 628.13 L110.27 627.27 L110.99 626.43 L111.72 625.60 L112.45 624.79 L113.18 624.00 L113.90 623.23 L114.63 622.47 L115.36 621.71 L116.08 620.97 L116.81 620.23 L117.54 619.50 L118.26 618.78 L118.99 618.08 L119.72 617.38 L120.44 616.70 L121.17 616.04 L121.90 615.38 L122.63 614.75 L123.35 614.13 L124.08 613.53 L124.81 612.95 L125.53 612.38 L126.26 611.82 L126.99 611.27 L127.71 610.73 L128.44 610.19 L129.17 609.67 L129.89 609.15 L130.62 608.65 L131.35 608.16 L132.08 607.69 L132.80 607.22 L133.53 606.78 L134.26 606.35 L134.98 605.94 L135.71 605.56 L136.44 605.19 L137.16 604.84 L137.89 604.50 L138.62 604.16 L139.35 603.83 L140.07 603.50 L140.80 603.18 L141.53 602.88 L142.25 602.58 L142.98 602.29 L143.71 602.02 L144.43 601.76 L145.16 601.52 L145.89 601.30 L146.61 601.09 L147.34 600.91 L148.07 600.74 L148.80 600.59 L149.52 600.46 L150.25 600.33 L150.98 600.22 L151.70 600.11 L152.43 600.02 L153.16 599.94 L153.88 599.88" fill="none" stroke="#000000" stroke-width="1.35" stroke-linejoin="round"/>
<path d="M38.30 731.40 L39.19 729.55 L40.08 727.71 L40.96 725.89 L41.85 724.07 L42.74 722.27 L43.63 720.48 L44.51 718.70 L45.40 716.94 L46.29 715.18 L47.18 713.44 L48.06 711.72 L48.95 710.00 L49.84 708.31 L50.73 706.62 L51.61 704.95 L52.50 703.29 L53.39 701.65 L54.28 700.03 L55.16 698.43 L56.05 696.84 L56.94 695.26 L57.83 693.70 L58.71 692.14 L59.60 690.59 L60.49 689.05 L61.38 687.52 L62.26 685.99 L63.15 684.46 L64.04 682.94 L64.93 681.41 L65.81 679.88 L66.70 678.34 L67.59 676.81 L68.48 675.28 L69.36 673.76 L70.25 672.25 L71.14 670.74 L72.03 669.23 L72.91 667.73 L73.80 666.23 L74.69 664.73 L75.58 663.23 L76.46 661.72 L77.35 660.22 L78.24 658.70 L79.13 657.19 L80.01 655.67 L80.90 654.14 L81.79 652.60 L82.68 651.05 L83.56 649.48 L84.45 647.89 L85.34 646.29 L86.23 644.69 L87.12 643.10 L88.00 641.52 L88.89 639.97 L89.78 638.44 L90.67 636.95 L91.55 635.49 L92.44 634.05 L93.33 632.62 L94.22 631.19 L95.10 629.77 L95.99 628.34 L96.88 626.89 L97.77 625.41 L98.65 623.91 L99.54 622.41 L100.43 620.93 L101.32 619.47 L102.20 618.06 L103.09 616.71 L103.98 615.42 L104.87 614.23 L105.75 613.11 L106.64 612.05 L107.53 611.02 L108.42 610.01 L109.30 608.99 L110.19 607.94 L111.08 606.83 L111.97 605.66 L112.85 604.43 L113.74 603.16 L114.63 601.87 L115.52 600.56 L116.40 599.24 L117.29 597.93 L118.18 596.63 L119.07 595.35 L119.95 594.11 L120.84 592.89 L121.73 591.67 L122.62 590.46 L123.50 589.25 L124.39 588.06 L125.28 586.87 L126.17 585.71 L127.05 584.56 L127.94 583.43 L128.83 582.33 L129.72 581.25 L130.60 580.19 L131.49 579.16 L132.38 578.15 L133.27 577.15 L134.16 576.17 L135.04 575.21 L135.93 574.26 L136.82 573.33 L137.71 572.41 L138.59 571.51 L139.48 570.64 L140.37 569.78 L141.26 568.95 L142.14 568.11 L143.03 567.29 L143.92 566.46 L144.81 565.62 L145.69 564.76 L146.58 563.89 L147.47 562.98 L148.36 562.03 L149.24 561.07 L150.13 560.11 L151.02 559.16 L151.91 558.23 L152.79 557.33 L153.68 556.49 L154.57 555.71 L155.46 555.00 L156.34 554.32 L157.23 553.68 L158.12 553.07 L159.01 552.48 L159.89 551.91 L160.78 551.37 L161.67 550.84 L162.56 550.35 L163.44 549.88 L164.33 549.43 L165.22 548.98 L166.11 548.53 L166.99 548.06 L167.88 547.58 L168.77 547.05 L169.66 546.46 L170.54 545.83 L171.43 545.20 L172.32 544.57 L173.21 543.99 L174.09 543.46 L174.98 543.03 L175.87 542.66 L176.76 542.31 L177.64 542.00 L178.53 541.74 L179.42 541.52" fill="none" stroke="#ff0000" stroke-width="1.35" stroke-linejoin="round"/>
<path d="M38.30 731.40 L39.30 729.45 L40.29 727.51 L41.29 725.58 L42.29 723.66 L43.29 721.75 L44.28 719.85 L45.28 717.96 L46.28 716.08 L47.28 714.20 L48.27 712.33 L49.27 710.48 L50.27 708.63 L51.27 706.78 L52.26 704.95 L53.26 703.13 L54.26 701.33 L55.26 699.54 L56.25 697.75 L57.25 695.98 L58.25 694.21 L59.25 692.44 L60.24 690.67 L61.24 688.89 L62.24 687.12 L63.24 685.35 L64.23 683.58 L65.23 681.82 L66.23 680.06 L67.23 678.30 L68.22 676.55 L69.22 674.82 L70.22 673.08 L71.22 671.35 L72.21 669.61 L73.21 667.88 L74.21 666.17 L75.21 664.47 L76.20 662.81 L77.20 661.18 L78.20 659.61 L79.19 658.10 L80.19 656.60 L81.19 655.07 L82.19 653.47 L83.18 651.82 L84.18 650.11 L85.18 648.38 L86.18 646.64 L87.17 644.90 L88.17 643.18 L89.17 641.49 L90.17 639.84 L91.16 638.21 L92.16 636.58 L93.16 634.96 L94.16 633.34 L95.15 631.75 L96.15 630.17 L97.15 628.61 L98.15 627.08 L99.14 625.57 L100.14 624.10 L101.14 622.65 L102.14 621.24 L103.13 619.86 L104.13 618.49 L105.13 617.15 L106.13 615.83 L107.12 614.52 L108.12 613.24 L109.12 611.96 L110.12 610.70 L111.11 609.46 L112.11 608.22 L113.11 606.99 L114.10 605.78 L115.10 604.60 L116.10 603.42 L117.10 602.27 L118.09 601.12 L119.09 599.98 L120.09 598.84 L121.09 597.71 L122.08 596.57 L123.08 595.43 L124.08 594.29 L125.08 593.15 L126.07 592.03 L127.07 590.91 L128.07 589.79 L129.07 588.67 L130.06 587.54 L131.06 586.40 L132.06 585.25 L133.06 584.09 L134.05 582.90 L135.05 581.68 L136.05 580.43 L137.05 579.18 L138.04 577.93 L139.04 576.68 L140.04 575.45 L141.04 574.26 L142.03 573.10 L143.03 571.97 L144.03 570.86 L145.03 569.76 L146.02 568.68 L147.02 567.62 L148.02 566.56 L149.02 565.51 L150.01 564.46 L151.01 563.42 L152.01 562.36 L153.00 561.30 L154.00 560.25 L155.00 559.20 L156.00 558.17 L156.99 557.17 L157.99 556.20 L158.99 555.27 L159.99 554.38 L160.98 553.53 L161.98 552.71 L162.98 551.90 L163.98 551.12 L164.97 550.35 L165.97 549.59 L166.97 548.83 L167.97 548.08 L168.96 547.33 L169.96 546.57 L170.96 545.82 L171.96 545.08 L172.95 544.35 L173.95 543.64 L174.95 542.95 L175.95 542.28 L176.94 541.64 L177.94 541.02 L178.94 540.42 L179.94 539.83 L180.93 539.26 L181.93 538.72 L182.93 538.19 L183.93 537.68 L184.92 537.19 L185.92 536.70 L186.92 536.23 L187.92 535.76 L188.91 535.30 L189.91 534.85 L190.91 534.42 L191.90 533.99 L192.90 533.58 L193.90 533.19 L194.90 532.81 L195.89 532.44 L196.89 532.09" fill="none" stroke="#008000" stroke-width="1.35" stroke-linejoin="round"/>
<rect x="38.45" y="725.25" width="3.5" height="3.5" fill="#000000"/>
<rect x="42.05" y="720.85" width="3.5" height="3.5" fill="#000000"/>
<rect x="45.05" y="715.05" width="3.5" height="3.5" fill="#000000"/>
<rect x="50.15" y="707.05" width="3.5" height="3.5" fill="#000000"/>
<rect x="54.45" y="700.45" width="3.5" height="3.5" fill="#000000"/>
<rect x="59.65" y="694.65" width="3.5" height="3.5" fill="#000000"/>
<rect x="65.45" y="684.35" width="3.5" height="3.5" fill="#000000"/>
<rect x="70.55" y="674.15" width="3.5" height="3.5" fill="#000000"/>
<rect x="77.15" y="664.25" width="3.5" height="3.5" fill="#000000"/>
<rect x="82.25" y="658.35" width="3.5" height="3.5" fill="#000000"/>
<rect x="86.65" y="651.55" width="3.5" height="3.5" fill="#000000"/>
<rect x="93.15" y="640.55" width="3.5" height="3.5" fill="#000000"/>
<rect x="99.75" y="632.55" width="3.5" height="3.5" fill="#000000"/>
<rect x="104.85" y="625.65" width="3.5" height="3.5" fill="#000000"/>
<rect x="111.55" y="617.85" width="3.5" height="3.5" fill="#000000"/>
<rect x="117.75" y="611.55" width="3.5" height="3.5" fill="#000000"/>
<rect x="124.45" y="605.15" width="3.5" height="3.5" fill="#000000"/>
<rect x="132.55" y="599.45" width="3.5" height="3.5" fill="#000000"/>
<rect x="140.95" y="596.15" width="3.5" height="3.5" fill="#000000"/>
<rect x="151.95" y="594.45" width="3.5" height="3.5" fill="#000000"/>
<circle cx="40.20" cy="729.20" r="2.1" fill="#ff0000"/>
<circle cx="44.60" cy="721.90" r="2.1" fill="#ff0000"/>
<circle cx="47.90" cy="716.10" r="2.1" fill="#ff0000"/>
<circle cx="52.30" cy="708.80" r="2.1" fill="#ff0000"/>
<circle cx="56.70" cy="701.50" r="2.1" fill="#ff0000"/>
<circle cx="61.10" cy="694.60" r="2.1" fill="#ff0000"/>
<circle cx="65.00" cy="687.90" r="2.1" fill="#ff0000"/>
<circle cx="69.80" cy="680.30" r="2.1" fill="#ff0000"/>
<circle cx="73.80" cy="674.50" r="2.1" fill="#ff0000"/>
<circle cx="79.60" cy="665.30" r="2.1" fill="#ff0000"/>
<circle cx="85.00" cy="655.90" r="2.1" fill="#ff0000"/>
<circle cx="89.10" cy="650.40" r="2.1" fill="#ff0000"/>
<circle cx="94.20" cy="642.00" r="2.1" fill="#ff0000"/>
<circle cx="99.00" cy="634.60" r="2.1" fill="#ff0000"/>
<circle cx="105.00" cy="624.00" r="2.1" fill="#ff0000"/>
<circle cx="110.70" cy="615.70" r="2.1" fill="#ff0000"/>
<circle cx="114.30" cy="609.80" r="2.1" fill="#ff0000"/>
<circle cx="120.50" cy="601.20" r="2.1" fill="#ff0000"/>
<circle cx="125.70" cy="593.20" r="2.1" fill="#ff0000"/>
<circle cx="129.90" cy="586.90" r="2.1" fill="#ff0000"/>
<circle cx="137.40" cy="576.90" r="2.1" fill="#ff0000"/>
<circle cx="143.90" cy="568.90" r="2.1" fill="#ff0000"/>
<circle cx="150.90" cy="561.20" r="2.1" fill="#ff0000"/>
<circle cx="157.90" cy="554.90" r="2.1" fill="#ff0000"/>
<circle cx="164.90" cy="549.50" r="2.1" fill="#ff0000"/>
<circle cx="171.20" cy="546.50" r="2.1" fill="#ff0000"/>
<circle cx="178.30" cy="543.70" r="2.1" fill="#ff0000"/>
<circle cx="185.30" cy="542.50" r="2.1" fill="#ff0000"/>
<circle cx="189.90" cy="543.20" r="2.1" fill="#ff0000"/>
<path d="M40.90 724.00L43.40 728.20L38.40 728.20Z" fill="#008000"/>
<path d="M46.00 717.70L48.50 721.90L43.50 721.90Z" fill="#008000"/>
<path d="M50.40 712.30L52.90 716.50L47.90 716.50Z" fill="#008000"/>
<path d="M54.40 705.00L56.90 709.20L51.90 709.20Z" fill="#008000"/>
<path d="M60.20 697.00L62.70 701.20L57.70 701.20Z" fill="#008000"/>
<path d="M65.00 689.70L67.50 693.90L62.50 693.90Z" fill="#008000"/>
<path d="M70.40 681.20L72.90 685.40L67.90 685.40Z" fill="#008000"/>
<path d="M74.50 675.10L77.00 679.30L72.00 679.30Z" fill="#008000"/>
<path d="M79.60 667.00L82.10 671.20L77.10 671.20Z" fill="#008000"/>
<path d="M84.40 659.70L86.90 663.90L81.90 663.90Z" fill="#008000"/>
<path d="M89.80 652.40L92.30 656.60L87.30 656.60Z" fill="#008000"/>
<path d="M95.20 644.70L97.70 648.90L92.70 648.90Z" fill="#008000"/>
<path d="M100.80 635.90L103.30 640.10L98.30 640.10Z" fill="#008000"/>
<path d="M106.30 627.60L108.80 631.80L103.80 631.80Z" fill="#008000"/>
<path d="M111.70 619.60L114.20 623.80L109.20 623.80Z" fill="#008000"/>
<path d="M117.40 611.50L119.90 615.70L114.90 615.70Z" fill="#008000"/>
<path d="M124.10 603.50L126.60 607.70L121.60 607.70Z" fill="#008000"/>
<path d="M129.20 593.20L131.70 597.40L126.70 597.40Z" fill="#008000"/>
<path d="M135.50 585.30L138.00 589.50L133.00 589.50Z" fill="#008000"/>
<path d="M141.60 577.60L144.10 581.80L139.10 581.80Z" fill="#008000"/>
<path d="M148.60 568.20L151.10 572.40L146.10 572.40Z" fill="#008000"/>
<path d="M154.20 561.90L156.70 566.10L151.70 566.10Z" fill="#008000"/>
<path d="M160.30 554.20L162.80 558.40L157.80 558.40Z" fill="#008000"/>
<path d="M166.60 546.10L169.10 550.30L164.10 550.30Z" fill="#008000"/>
<path d="M174.30 541.90L176.80 546.10L171.80 546.10Z" fill="#008000"/>
<path d="M179.00 538.60L181.50 542.80L176.50 542.80Z" fill="#008000"/>
<path d="M185.30 533.90L187.80 538.10L182.80 538.10Z" fill="#008000"/>
<path d="M196.90 530.20L199.40 534.40L194.40 534.40Z" fill="#008000"/>
<text x="204.20" y="540.20" font-size="10.8">R<tspan font-size="7.3" dy="-4.1">2</tspan><tspan dy="4.1">=0.994</tspan></text>
<text x="179.70" y="562.40" font-size="10.8">R<tspan font-size="7.3" dy="-4.1">2</tspan><tspan dy="4.1">=0.995</tspan></text>
<text x="149.10" y="616.10" font-size="10.8">R<tspan font-size="7.3" dy="-4.1">2</tspan><tspan dy="4.1">=0.999</tspan></text>
<text x="237.90" y="661.10" font-size="12.3" text-anchor="middle">Group 3</text><line x1="217.65" x2="258.15" y1="662.70" y2="662.70" stroke="#000" stroke-width="0.9"/>
<text x="206.70" y="678.00" font-size="12.3" text-anchor="middle">Experiment</text><line x1="178.20" x2="235.20" y1="679.60" y2="679.60" stroke="#000" stroke-width="0.9"/>
<text x="275.40" y="678.00" font-size="12.3" text-anchor="middle">Popovics</text><line x1="252.65" x2="298.15" y1="679.60" y2="679.60" stroke="#000" stroke-width="0.9"/>
<line x1="175.4" x2="203.8" y1="689.10" y2="689.10" stroke="#000000" stroke-width="1.2"/>
<text x="237.40" y="693.30" font-size="12.3" text-anchor="end">20 °C</text>
<rect x="252.85" y="687.35" width="3.5" height="3.5" fill="#000000"/>
<text x="300.00" y="693.30" font-size="12.3" text-anchor="end">20 °C</text>
<line x1="175.4" x2="203.8" y1="704.30" y2="704.30" stroke="#ff0000" stroke-width="1.2"/>
<text x="237.40" y="708.50" font-size="12.3" text-anchor="end">-<tspan dx="-0.7">20</tspan> °C</text>
<circle cx="254.60" cy="704.30" r="2.1" fill="#ff0000"/>
<text x="300.00" y="708.50" font-size="12.3" text-anchor="end">-<tspan dx="-0.7">20</tspan> °C</text>
<line x1="175.4" x2="203.8" y1="719.30" y2="719.30" stroke="#008000" stroke-width="1.2"/>
<text x="237.40" y="723.50" font-size="12.3" text-anchor="end">-<tspan dx="-0.7">40</tspan> °C</text>
<path d="M254.60 717.00L257.10 721.20L252.10 721.20Z" fill="#008000"/>
<text x="300.00" y="723.50" font-size="12.3" text-anchor="end">-<tspan dx="-0.7">40</tspan> °C</text>
<path d="M408.50 527.50H677.30V731.40H408.50Z" fill="none" stroke="#000" stroke-width="1.25"/>
<path d="M402.50 731.40H408.50M406.10 705.91H408.50M402.50 680.42H408.50M406.10 654.94H408.50M402.50 629.45H408.50M406.10 603.96H408.50M402.50 578.47H408.50M406.10 552.99H408.50M402.50 527.50H408.50M408.50 731.40V737.40M442.10 731.40V733.80M475.70 731.40V737.40M509.30 731.40V733.80M542.90 731.40V737.40M576.50 731.40V733.80M610.10 731.40V737.40M643.70 731.40V733.80M677.30 731.40V737.40" stroke="#000" stroke-width="1.25" fill="none"/>
<text x="397.90" y="735.30" font-size="12.2" text-anchor="end">0</text>
<text x="397.90" y="684.32" font-size="12.2" text-anchor="end">20</text>
<text x="397.90" y="633.35" font-size="12.2" text-anchor="end">40</text>
<text x="397.90" y="582.37" font-size="12.2" text-anchor="end">60</text>
<text x="397.90" y="531.40" font-size="12.2" text-anchor="end">80</text>
<text x="408.50" y="752.00" font-size="12.2" text-anchor="middle">0.0</text>
<text x="475.70" y="752.00" font-size="12.2" text-anchor="middle">1.5</text>
<text x="542.90" y="752.00" font-size="12.2" text-anchor="middle">3.0</text>
<text x="610.10" y="752.00" font-size="12.2" text-anchor="middle">4.5</text>
<text x="677.30" y="752.00" font-size="12.2" text-anchor="middle">6.0</text>
<text x="543.10" y="769.40" font-size="12.15" text-anchor="middle">Strain (x10<tspan font-size="8.5" dy="-4.5">-3</tspan><tspan dy="4.5"> mm/mm)</tspan></text>
<text transform="translate(380.30,629.45) rotate(-90)" font-size="12.3" text-anchor="middle">Stress (MPa)</text>
<path d="M408.50 731.40 L409.23 730.49 L409.95 729.55 L410.68 728.59 L411.41 727.61 L412.13 726.61 L412.86 725.59 L413.59 724.55 L414.32 723.50 L415.04 722.42 L415.77 721.33 L416.50 720.22 L417.22 719.09 L417.95 717.92 L418.68 716.70 L419.40 715.45 L420.13 714.17 L420.86 712.87 L421.58 711.56 L422.31 710.24 L423.04 708.94 L423.77 707.64 L424.49 706.38 L425.22 705.14 L425.95 703.94 L426.67 702.76 L427.40 701.59 L428.13 700.44 L428.85 699.29 L429.58 698.15 L430.31 697.02 L431.04 695.90 L431.76 694.78 L432.49 693.67 L433.22 692.56 L433.94 691.45 L434.67 690.34 L435.40 689.24 L436.12 688.15 L436.85 687.07 L437.58 686.00 L438.30 684.93 L439.03 683.85 L439.76 682.77 L440.49 681.69 L441.21 680.59 L441.94 679.47 L442.67 678.34 L443.39 677.19 L444.12 676.03 L444.85 674.87 L445.57 673.71 L446.30 672.56 L447.03 671.43 L447.75 670.31 L448.48 669.20 L449.21 668.08 L449.94 666.96 L450.66 665.85 L451.39 664.74 L452.12 663.65 L452.84 662.56 L453.57 661.49 L454.30 660.44 L455.02 659.41 L455.75 658.41 L456.48 657.43 L457.21 656.49 L457.93 655.58 L458.66 654.69 L459.39 653.83 L460.11 652.97 L460.84 652.11 L461.57 651.24 L462.29 650.36 L463.02 649.45 L463.75 648.52 L464.47 647.58 L465.20 646.63 L465.93 645.68 L466.66 644.72 L467.38 643.76 L468.11 642.80 L468.84 641.84 L469.56 640.88 L470.29 639.94 L471.02 639.00 L471.74 638.07 L472.47 637.16 L473.20 636.25 L473.92 635.33 L474.65 634.42 L475.38 633.50 L476.11 632.59 L476.83 631.68 L477.56 630.78 L478.29 629.89 L479.01 629.00 L479.74 628.13 L480.47 627.27 L481.19 626.43 L481.92 625.60 L482.65 624.79 L483.38 624.00 L484.10 623.23 L484.83 622.47 L485.56 621.71 L486.28 620.97 L487.01 620.23 L487.74 619.50 L488.46 618.78 L489.19 618.08 L489.92 617.38 L490.64 616.70 L491.37 616.04 L492.10 615.38 L492.83 614.75 L493.55 614.13 L494.28 613.53 L495.01 612.95 L495.73 612.38 L496.46 611.82 L497.19 611.27 L497.91 610.73 L498.64 610.19 L499.37 609.67 L500.09 609.15 L500.82 608.65 L501.55 608.16 L502.28 607.69 L503.00 607.22 L503.73 606.78 L504.46 606.35 L505.18 605.94 L505.91 605.56 L506.64 605.19 L507.36 604.84 L508.09 604.50 L508.82 604.16 L509.55 603.83 L510.27 603.50 L511.00 603.18 L511.73 602.88 L512.45 602.58 L513.18 602.29 L513.91 602.02 L514.63 601.76 L515.36 601.52 L516.09 601.30 L516.81 601.09 L517.54 600.91 L518.27 600.74 L519.00 600.59 L519.72 600.46 L520.45 600.33 L521.18 600.22 L521.90 600.11 L522.63 600.02 L523.36 599.94 L524.08 599.88" fill="none" stroke="#000000" stroke-width="1.35" stroke-linejoin="round"/>
<path d="M408.50 731.40 L409.39 729.55 L410.28 727.71 L411.16 725.89 L412.05 724.07 L412.94 722.27 L413.83 720.48 L414.71 718.70 L415.60 716.94 L416.49 715.18 L417.38 713.44 L418.26 711.72 L419.15 710.00 L420.04 708.31 L420.93 706.62 L421.81 704.95 L422.70 703.29 L423.59 701.65 L424.48 700.03 L425.36 698.43 L426.25 696.84 L427.14 695.26 L428.03 693.70 L428.91 692.14 L429.80 690.59 L430.69 689.05 L431.58 687.52 L432.46 685.99 L433.35 684.46 L434.24 682.94 L435.13 681.41 L436.01 679.88 L436.90 678.34 L437.79 676.81 L438.68 675.28 L439.56 673.76 L440.45 672.25 L441.34 670.74 L442.23 669.23 L443.11 667.73 L444.00 666.23 L444.89 664.73 L445.78 663.23 L446.66 661.72 L447.55 660.22 L448.44 658.70 L449.33 657.19 L450.21 655.67 L451.10 654.14 L451.99 652.60 L452.88 651.05 L453.76 649.48 L454.65 647.89 L455.54 646.29 L456.43 644.69 L457.32 643.10 L458.20 641.52 L459.09 639.97 L459.98 638.44 L460.87 636.95 L461.75 635.49 L462.64 634.05 L463.53 632.62 L464.42 631.19 L465.30 629.77 L466.19 628.34 L467.08 626.89 L467.97 625.41 L468.85 623.91 L469.74 622.41 L470.63 620.93 L471.52 619.47 L472.40 618.06 L473.29 616.71 L474.18 615.42 L475.07 614.23 L475.95 613.11 L476.84 612.05 L477.73 611.02 L478.62 610.01 L479.50 608.99 L480.39 607.94 L481.28 606.83 L482.17 605.66 L483.05 604.43 L483.94 603.16 L484.83 601.87 L485.72 600.56 L486.60 599.24 L487.49 597.93 L488.38 596.63 L489.27 595.35 L490.15 594.11 L491.04 592.89 L491.93 591.67 L492.82 590.46 L493.70 589.25 L494.59 588.06 L495.48 586.87 L496.37 585.71 L497.25 584.56 L498.14 583.43 L499.03 582.33 L499.92 581.25 L500.80 580.19 L501.69 579.16 L502.58 578.15 L503.47 577.15 L504.36 576.17 L505.24 575.21 L506.13 574.26 L507.02 573.33 L507.91 572.41 L508.79 571.51 L509.68 570.64 L510.57 569.78 L511.46 568.95 L512.34 568.11 L513.23 567.29 L514.12 566.46 L515.01 565.62 L515.89 564.76 L516.78 563.89 L517.67 562.98 L518.56 562.03 L519.44 561.07 L520.33 560.11 L521.22 559.16 L522.11 558.23 L522.99 557.33 L523.88 556.49 L524.77 555.71 L525.66 555.00 L526.54 554.32 L527.43 553.68 L528.32 553.07 L529.21 552.48 L530.09 551.91 L530.98 551.37 L531.87 550.84 L532.76 550.35 L533.64 549.88 L534.53 549.43 L535.42 548.98 L536.31 548.53 L537.19 548.06 L538.08 547.58 L538.97 547.05 L539.86 546.46 L540.74 545.83 L541.63 545.20 L542.52 544.57 L543.41 543.99 L544.29 543.46 L545.18 543.03 L546.07 542.66 L546.96 542.31 L547.84 542.00 L548.73 541.74 L549.62 541.52" fill="none" stroke="#ff0000" stroke-width="1.35" stroke-linejoin="round"/>
<path d="M408.50 731.40 L409.50 729.45 L410.49 727.51 L411.49 725.58 L412.49 723.66 L413.49 721.75 L414.48 719.85 L415.48 717.96 L416.48 716.08 L417.48 714.20 L418.47 712.33 L419.47 710.48 L420.47 708.63 L421.47 706.78 L422.46 704.95 L423.46 703.13 L424.46 701.33 L425.46 699.54 L426.45 697.75 L427.45 695.98 L428.45 694.21 L429.45 692.44 L430.44 690.67 L431.44 688.89 L432.44 687.12 L433.44 685.35 L434.43 683.58 L435.43 681.82 L436.43 680.06 L437.43 678.30 L438.42 676.55 L439.42 674.82 L440.42 673.08 L441.42 671.35 L442.41 669.61 L443.41 667.88 L444.41 666.17 L445.41 664.47 L446.40 662.81 L447.40 661.18 L448.40 659.61 L449.39 658.10 L450.39 656.60 L451.39 655.07 L452.39 653.47 L453.38 651.82 L454.38 650.11 L455.38 648.38 L456.38 646.64 L457.37 644.90 L458.37 643.18 L459.37 641.49 L460.37 639.84 L461.36 638.21 L462.36 636.58 L463.36 634.96 L464.36 633.34 L465.35 631.75 L466.35 630.17 L467.35 628.61 L468.35 627.08 L469.34 625.57 L470.34 624.10 L471.34 622.65 L472.34 621.24 L473.33 619.86 L474.33 618.49 L475.33 617.15 L476.33 615.83 L477.32 614.52 L478.32 613.24 L479.32 611.96 L480.32 610.70 L481.31 609.46 L482.31 608.22 L483.31 606.99 L484.30 605.78 L485.30 604.60 L486.30 603.42 L487.30 602.27 L488.29 601.12 L489.29 599.98 L490.29 598.84 L491.29 597.71 L492.28 596.57 L493.28 595.43 L494.28 594.29 L495.28 593.15 L496.27 592.03 L497.27 590.91 L498.27 589.79 L499.27 588.67 L500.26 587.54 L501.26 586.40 L502.26 585.25 L503.26 584.09 L504.25 582.90 L505.25 581.68 L506.25 580.43 L507.25 579.18 L508.24 577.93 L509.24 576.68 L510.24 575.45 L511.24 574.26 L512.23 573.10 L513.23 571.97 L514.23 570.86 L515.23 569.76 L516.22 568.68 L517.22 567.62 L518.22 566.56 L519.22 565.51 L520.21 564.46 L521.21 563.42 L522.21 562.36 L523.20 561.30 L524.20 560.25 L525.20 559.20 L526.20 558.17 L527.19 557.17 L528.19 556.20 L529.19 555.27 L530.19 554.38 L531.18 553.53 L532.18 552.71 L533.18 551.90 L534.18 551.12 L535.17 550.35 L536.17 549.59 L537.17 548.83 L538.17 548.08 L539.16 547.33 L540.16 546.57 L541.16 545.82 L542.16 545.08 L543.15 544.35 L544.15 543.64 L545.15 542.95 L546.15 542.28 L547.14 541.64 L548.14 541.02 L549.14 540.42 L550.14 539.83 L551.13 539.26 L552.13 538.72 L553.13 538.19 L554.13 537.68 L555.12 537.19 L556.12 536.70 L557.12 536.23 L558.12 535.76 L559.11 535.30 L560.11 534.85 L561.11 534.42 L562.10 533.99 L563.10 533.58 L564.10 533.19 L565.10 532.81 L566.09 532.44 L567.09 532.09" fill="none" stroke="#008000" stroke-width="1.35" stroke-linejoin="round"/>
<rect x="407.75" y="727.25" width="3.5" height="3.5" fill="#000000"/>
<rect x="412.05" y="717.95" width="3.5" height="3.5" fill="#000000"/>
<rect x="416.25" y="708.25" width="3.5" height="3.5" fill="#000000"/>
<rect x="420.85" y="698.25" width="3.5" height="3.5" fill="#000000"/>
<rect x="425.95" y="687.55" width="3.5" height="3.5" fill="#000000"/>
<rect x="431.05" y="677.85" width="3.5" height="3.5" fill="#000000"/>
<rect x="435.45" y="669.75" width="3.5" height="3.5" fill="#000000"/>
<rect x="440.95" y="661.05" width="3.5" height="3.5" fill="#000000"/>
<rect x="447.85" y="650.05" width="3.5" height="3.5" fill="#000000"/>
<rect x="452.25" y="644.65" width="3.5" height="3.5" fill="#000000"/>
<rect x="458.05" y="635.95" width="3.5" height="3.5" fill="#000000"/>
<rect x="463.95" y="628.65" width="3.5" height="3.5" fill="#000000"/>
<rect x="469.35" y="621.85" width="3.5" height="3.5" fill="#000000"/>
<rect x="475.25" y="616.55" width="3.5" height="3.5" fill="#000000"/>
<rect x="481.55" y="610.75" width="3.5" height="3.5" fill="#000000"/>
<rect x="488.05" y="605.75" width="3.5" height="3.5" fill="#000000"/>
<rect x="494.75" y="601.55" width="3.5" height="3.5" fill="#000000"/>
<rect x="502.75" y="598.25" width="3.5" height="3.5" fill="#000000"/>
<rect x="511.45" y="595.65" width="3.5" height="3.5" fill="#000000"/>
<rect x="521.95" y="594.45" width="3.5" height="3.5" fill="#000000"/>
<circle cx="410.20" cy="728.50" r="2.1" fill="#ff0000"/>
<circle cx="414.60" cy="716.80" r="2.1" fill="#ff0000"/>
<circle cx="418.20" cy="708.00" r="2.1" fill="#ff0000"/>
<circle cx="422.60" cy="697.10" r="2.1" fill="#ff0000"/>
<circle cx="427.00" cy="686.40" r="2.1" fill="#ff0000"/>
<circle cx="431.40" cy="676.60" r="2.1" fill="#ff0000"/>
<circle cx="435.40" cy="667.90" r="2.1" fill="#ff0000"/>
<circle cx="440.10" cy="658.40" r="2.1" fill="#ff0000"/>
<circle cx="444.20" cy="650.70" r="2.1" fill="#ff0000"/>
<circle cx="450.00" cy="639.10" r="2.1" fill="#ff0000"/>
<circle cx="455.40" cy="629.50" r="2.1" fill="#ff0000"/>
<circle cx="459.10" cy="622.90" r="2.1" fill="#ff0000"/>
<circle cx="464.60" cy="614.30" r="2.1" fill="#ff0000"/>
<circle cx="469.00" cy="607.00" r="2.1" fill="#ff0000"/>
<circle cx="475.10" cy="597.90" r="2.1" fill="#ff0000"/>
<circle cx="480.50" cy="590.40" r="2.1" fill="#ff0000"/>
<circle cx="484.50" cy="586.20" r="2.1" fill="#ff0000"/>
<circle cx="490.60" cy="578.70" r="2.1" fill="#ff0000"/>
<circle cx="495.70" cy="572.90" r="2.1" fill="#ff0000"/>
<circle cx="500.40" cy="568.20" r="2.1" fill="#ff0000"/>
<circle cx="507.40" cy="561.90" r="2.1" fill="#ff0000"/>
<circle cx="514.40" cy="556.50" r="2.1" fill="#ff0000"/>
<circle cx="521.40" cy="552.60" r="2.1" fill="#ff0000"/>
<circle cx="527.90" cy="548.80" r="2.1" fill="#ff0000"/>
<circle cx="534.90" cy="546.00" r="2.1" fill="#ff0000"/>
<circle cx="541.20" cy="544.20" r="2.1" fill="#ff0000"/>
<circle cx="548.30" cy="543.20" r="2.1" fill="#ff0000"/>
<circle cx="556.00" cy="542.80" r="2.1" fill="#ff0000"/>
<circle cx="559.50" cy="543.20" r="2.1" fill="#ff0000"/>
<path d="M411.60 721.10L414.10 725.30L409.10 725.30Z" fill="#008000"/>
<path d="M416.00 710.80L418.50 715.00L413.50 715.00Z" fill="#008000"/>
<path d="M420.40 702.10L422.90 706.30L417.90 706.30Z" fill="#008000"/>
<path d="M424.80 691.90L427.30 696.10L422.30 696.10Z" fill="#008000"/>
<path d="M429.90 679.50L432.40 683.70L427.40 683.70Z" fill="#008000"/>
<path d="M435.00 669.20L437.50 673.40L432.50 673.40Z" fill="#008000"/>
<path d="M440.40 659.00L442.90 663.20L437.90 663.20Z" fill="#008000"/>
<path d="M444.50 650.50L447.00 654.70L442.00 654.70Z" fill="#008000"/>
<path d="M450.00 640.80L452.50 645.00L447.50 645.00Z" fill="#008000"/>
<path d="M455.00 632.00L457.50 636.20L452.50 636.20Z" fill="#008000"/>
<path d="M459.80 624.00L462.30 628.20L457.30 628.20Z" fill="#008000"/>
<path d="M464.90 614.90L467.40 619.10L462.40 619.10Z" fill="#008000"/>
<path d="M470.80 605.70L473.30 609.90L468.30 609.90Z" fill="#008000"/>
<path d="M476.30 598.40L478.80 602.60L473.80 602.60Z" fill="#008000"/>
<path d="M481.70 590.40L484.20 594.60L479.20 594.60Z" fill="#008000"/>
<path d="M487.50 583.40L490.00 587.60L485.00 587.60Z" fill="#008000"/>
<path d="M493.40 576.00L495.90 580.20L490.90 580.20Z" fill="#008000"/>
<path d="M499.20 568.70L501.70 572.90L496.70 572.90Z" fill="#008000"/>
<path d="M506.20 562.40L508.70 566.60L503.70 566.60Z" fill="#008000"/>
<path d="M512.00 556.60L514.50 560.80L509.50 560.80Z" fill="#008000"/>
<path d="M517.90 550.70L520.40 554.90L515.40 554.90Z" fill="#008000"/>
<path d="M523.70 546.80L526.20 551.00L521.20 551.00Z" fill="#008000"/>
<path d="M530.70 542.60L533.20 546.80L528.20 546.80Z" fill="#008000"/>
<path d="M536.60 539.10L539.10 543.30L534.10 543.30Z" fill="#008000"/>
<path d="M543.60 535.50L546.10 539.70L541.10 539.70Z" fill="#008000"/>
<path d="M549.40 533.20L551.90 537.40L546.90 537.40Z" fill="#008000"/>
<path d="M556.00 532.00L558.50 536.20L553.50 536.20Z" fill="#008000"/>
<path d="M566.90 530.20L569.40 534.40L564.40 534.40Z" fill="#008000"/>
<text x="574.70" y="540.20" font-size="10.8">R<tspan font-size="7.3" dy="-4.1">2</tspan><tspan dy="4.1">=0.994</tspan></text>
<text x="550.20" y="562.40" font-size="10.8">R<tspan font-size="7.3" dy="-4.1">2</tspan><tspan dy="4.1">=0.991</tspan></text>
<text x="507.40" y="619.60" font-size="10.8">R<tspan font-size="7.3" dy="-4.1">2</tspan><tspan dy="4.1">=0.989</tspan></text>
<text x="609.55" y="661.10" font-size="12.3" text-anchor="middle">Group 3</text><line x1="589.30" x2="629.80" y1="662.70" y2="662.70" stroke="#000" stroke-width="0.9"/>
<text x="574.60" y="678.00" font-size="12.3" text-anchor="middle">Experiment</text><line x1="546.10" x2="603.10" y1="679.60" y2="679.60" stroke="#000" stroke-width="0.9"/>
<text x="647.20" y="678.00" font-size="12.3" text-anchor="middle">Hognestad</text><line x1="620.95" x2="673.45" y1="679.60" y2="679.60" stroke="#000" stroke-width="0.9"/>
<line x1="547" x2="575.8" y1="689.10" y2="689.10" stroke="#000000" stroke-width="1.2"/>
<text x="609.40" y="693.30" font-size="12.3" text-anchor="end">20 °C</text>
<rect x="624.35" y="687.35" width="3.5" height="3.5" fill="#000000"/>
<text x="672.00" y="693.30" font-size="12.3" text-anchor="end">20 °C</text>
<line x1="547" x2="575.8" y1="704.30" y2="704.30" stroke="#ff0000" stroke-width="1.2"/>
<text x="609.40" y="708.50" font-size="12.3" text-anchor="end">-<tspan dx="-0.7">20</tspan> °C</text>
<circle cx="626.10" cy="704.30" r="2.1" fill="#ff0000"/>
<text x="672.00" y="708.50" font-size="12.3" text-anchor="end">-<tspan dx="-0.7">20</tspan> °C</text>
<line x1="547" x2="575.8" y1="719.30" y2="719.30" stroke="#008000" stroke-width="1.2"/>
<text x="609.40" y="723.50" font-size="12.3" text-anchor="end">-<tspan dx="-0.7">40</tspan> °C</text>
<path d="M626.10 717.00L628.60 721.20L623.60 721.20Z" fill="#008000"/>
<text x="672.00" y="723.50" font-size="12.3" text-anchor="end">-<tspan dx="-0.7">40</tspan> °C</text>
<path d="M38.30 810.30H307.10V1014.20H38.30Z" fill="none" stroke="#000" stroke-width="1.25"/>
<path d="M32.30 1014.20H38.30M35.90 988.71H38.30M32.30 963.23H38.30M35.90 937.74H38.30M32.30 912.25H38.30M35.90 886.76H38.30M32.30 861.28H38.30M35.90 835.79H38.30M32.30 810.30H38.30M38.30 1014.20V1020.20M71.90 1014.20V1016.60M105.50 1014.20V1020.20M139.10 1014.20V1016.60M172.70 1014.20V1020.20M206.30 1014.20V1016.60M239.90 1014.20V1020.20M273.50 1014.20V1016.60M307.10 1014.20V1020.20" stroke="#000" stroke-width="1.25" fill="none"/>
<text x="27.70" y="1018.10" font-size="12.2" text-anchor="end">0</text>
<text x="27.70" y="967.12" font-size="12.2" text-anchor="end">20</text>
<text x="27.70" y="916.15" font-size="12.2" text-anchor="end">40</text>
<text x="27.70" y="865.18" font-size="12.2" text-anchor="end">60</text>
<text x="27.70" y="814.20" font-size="12.2" text-anchor="end">80</text>
<text x="38.30" y="1034.80" font-size="12.2" text-anchor="middle">0.0</text>
<text x="105.50" y="1034.80" font-size="12.2" text-anchor="middle">1.5</text>
<text x="172.70" y="1034.80" font-size="12.2" text-anchor="middle">3.0</text>
<text x="239.90" y="1034.80" font-size="12.2" text-anchor="middle">4.5</text>
<text x="307.10" y="1034.80" font-size="12.2" text-anchor="middle">6.0</text>
<text x="172.90" y="1052.20" font-size="12.15" text-anchor="middle">Strain (x10<tspan font-size="8.5" dy="-4.5">-3</tspan><tspan dy="4.5"> mm/mm)</tspan></text>
<text transform="translate(10.10,912.25) rotate(-90)" font-size="12.3" text-anchor="middle">Stress (MPa)</text>
<path d="M38.30 1014.20 L38.91 1013.40 L39.53 1012.60 L40.14 1011.81 L40.76 1011.03 L41.37 1010.26 L41.99 1009.49 L42.60 1008.73 L43.21 1007.97 L43.83 1007.22 L44.44 1006.48 L45.06 1005.75 L45.67 1005.03 L46.29 1004.31 L46.90 1003.60 L47.51 1002.90 L48.13 1002.21 L48.74 1001.52 L49.36 1000.85 L49.97 1000.18 L50.58 999.54 L51.20 998.90 L51.81 998.28 L52.43 997.67 L53.04 997.07 L53.66 996.48 L54.27 995.90 L54.88 995.31 L55.50 994.73 L56.11 994.15 L56.73 993.57 L57.34 992.99 L57.96 992.40 L58.57 991.81 L59.18 991.20 L59.80 990.59 L60.41 989.96 L61.03 989.32 L61.64 988.66 L62.26 987.99 L62.87 987.29 L63.48 986.57 L64.10 985.83 L64.71 985.08 L65.33 984.32 L65.94 983.55 L66.55 982.78 L67.17 982.01 L67.78 981.24 L68.40 980.48 L69.01 979.72 L69.63 978.98 L70.24 978.25 L70.85 977.54 L71.47 976.86 L72.08 976.19 L72.70 975.56 L73.31 974.94 L73.93 974.33 L74.54 973.72 L75.15 973.12 L75.77 972.52 L76.38 971.93 L77.00 971.35 L77.61 970.78 L78.23 970.21 L78.84 969.66 L79.45 969.12 L80.07 968.59 L80.68 968.07 L81.30 967.57 L81.91 967.09 L82.53 966.63 L83.14 966.18 L83.75 965.75 L84.37 965.34 L84.98 964.95 L85.60 964.58 L86.21 964.23 L86.82 963.88 L87.44 963.55 L88.05 963.23 L88.67 962.92 L89.28 962.61 L89.90 962.32 L90.51 962.03 L91.12 961.75 L91.74 961.48 L92.35 961.20 L92.97 960.94 L93.58 960.67 L94.20 960.41 L94.81 960.14 L95.42 959.88 L96.04 959.62 L96.65 959.35 L97.27 959.09 L97.88 958.83 L98.50 958.57 L99.11 958.31 L99.72 958.06 L100.34 957.81 L100.95 957.56 L101.57 957.31 L102.18 957.07 L102.80 956.83 L103.41 956.59 L104.02 956.36 L104.64 956.12 L105.25 955.89 L105.87 955.66 L106.48 955.43 L107.09 955.21 L107.71 954.99 L108.32 954.77 L108.94 954.54 L109.55 954.32 L110.17 954.09 L110.78 953.86 L111.39 953.64 L112.01 953.41 L112.62 953.18 L113.24 952.96 L113.85 952.74 L114.47 952.53 L115.08 952.32 L115.69 952.12 L116.31 951.92 L116.92 951.74 L117.54 951.56 L118.15 951.39 L118.77 951.23 L119.38 951.09 L119.99 950.96 L120.61 950.83 L121.22 950.71 L121.84 950.59 L122.45 950.48 L123.06 950.37 L123.68 950.27 L124.29 950.17 L124.91 950.07 L125.52 949.99 L126.14 949.91 L126.75 949.83 L127.36 949.77 L127.98 949.71 L128.59 949.65 L129.21 949.60 L129.82 949.55 L130.44 949.50 L131.05 949.45 L131.66 949.41 L132.28 949.36 L132.89 949.33 L133.51 949.29 L134.12 949.26 L134.74 949.24 L135.35 949.22 L135.96 949.21" fill="none" stroke="#000000" stroke-width="1.7" stroke-linejoin="round"/>
<path d="M38.30 1014.20 L38.96 1013.34 L39.62 1012.49 L40.28 1011.64 L40.94 1010.80 L41.60 1009.97 L42.26 1009.15 L42.92 1008.34 L43.57 1007.53 L44.23 1006.73 L44.89 1005.95 L45.55 1005.17 L46.21 1004.39 L46.87 1003.63 L47.53 1002.88 L48.19 1002.14 L48.85 1001.41 L49.51 1000.68 L50.17 999.97 L50.83 999.28 L51.49 998.61 L52.15 997.94 L52.81 997.29 L53.46 996.65 L54.12 996.01 L54.78 995.38 L55.44 994.76 L56.10 994.13 L56.76 993.51 L57.42 992.88 L58.08 992.25 L58.74 991.61 L59.40 990.96 L60.06 990.30 L60.72 989.63 L61.38 988.94 L62.04 988.24 L62.69 987.51 L63.35 986.76 L64.01 985.99 L64.67 985.21 L65.33 984.42 L65.99 983.62 L66.65 982.82 L67.31 982.02 L67.97 981.22 L68.63 980.44 L69.29 979.67 L69.95 978.92 L70.61 978.19 L71.27 977.48 L71.93 976.81 L72.58 976.17 L73.24 975.56 L73.90 974.97 L74.56 974.39 L75.22 973.83 L75.88 973.28 L76.54 972.74 L77.20 972.22 L77.86 971.70 L78.52 971.19 L79.18 970.70 L79.84 970.20 L80.50 969.72 L81.16 969.24 L81.82 968.76 L82.47 968.28 L83.13 967.81 L83.79 967.33 L84.45 966.86 L85.11 966.38 L85.77 965.91 L86.43 965.44 L87.09 964.98 L87.75 964.52 L88.41 964.06 L89.07 963.61 L89.73 963.17 L90.39 962.72 L91.05 962.28 L91.70 961.84 L92.36 961.41 L93.02 960.97 L93.68 960.53 L94.34 960.10 L95.00 959.66 L95.66 959.22 L96.32 958.78 L96.98 958.34 L97.64 957.90 L98.30 957.45 L98.96 957.00 L99.62 956.55 L100.28 956.10 L100.94 955.64 L101.59 955.19 L102.25 954.75 L102.91 954.30 L103.57 953.86 L104.23 953.43 L104.89 953.00 L105.55 952.58 L106.21 952.17 L106.87 951.77 L107.53 951.37 L108.19 950.99 L108.85 950.62 L109.51 950.25 L110.17 949.88 L110.83 949.52 L111.48 949.17 L112.14 948.82 L112.80 948.47 L113.46 948.13 L114.12 947.79 L114.78 947.46 L115.44 947.14 L116.10 946.82 L116.76 946.51 L117.42 946.20 L118.08 945.90 L118.74 945.61 L119.40 945.32 L120.06 945.04 L120.72 944.75 L121.37 944.47 L122.03 944.19 L122.69 943.92 L123.35 943.64 L124.01 943.37 L124.67 943.11 L125.33 942.85 L125.99 942.61 L126.65 942.37 L127.31 942.14 L127.97 941.92 L128.63 941.72 L129.29 941.53 L129.95 941.35 L130.60 941.19 L131.26 941.05 L131.92 940.91 L132.58 940.78 L133.24 940.66 L133.90 940.54 L134.56 940.42 L135.22 940.31 L135.88 940.20 L136.54 940.09 L137.20 939.97 L137.86 939.86 L138.52 939.75 L139.18 939.64 L139.84 939.53 L140.49 939.42 L141.15 939.32 L141.81 939.21 L142.47 939.11 L143.13 939.01" fill="none" stroke="#ff0000" stroke-width="1.7" stroke-linejoin="round"/>
<path d="M38.30 1014.20 L39.04 1013.00 L39.78 1011.81 L40.51 1010.64 L41.25 1009.48 L41.99 1008.34 L42.73 1007.21 L43.47 1006.10 L44.21 1005.00 L44.94 1003.92 L45.68 1002.85 L46.42 1001.81 L47.16 1000.78 L47.90 999.77 L48.63 998.77 L49.37 997.80 L50.11 996.84 L50.85 995.91 L51.59 995.00 L52.33 994.10 L53.06 993.22 L53.80 992.36 L54.54 991.50 L55.28 990.66 L56.02 989.83 L56.76 989.00 L57.49 988.18 L58.23 987.36 L58.97 986.54 L59.71 985.72 L60.45 984.90 L61.18 984.08 L61.92 983.25 L62.66 982.43 L63.40 981.62 L64.14 980.81 L64.88 980.01 L65.61 979.22 L66.35 978.43 L67.09 977.64 L67.83 976.85 L68.57 976.05 L69.30 975.25 L70.04 974.45 L70.78 973.64 L71.52 972.82 L72.26 971.99 L73.00 971.15 L73.73 970.30 L74.47 969.43 L75.21 968.55 L75.95 967.66 L76.69 966.76 L77.43 965.86 L78.16 964.96 L78.90 964.05 L79.64 963.14 L80.38 962.24 L81.12 961.33 L81.85 960.44 L82.59 959.55 L83.33 958.67 L84.07 957.80 L84.81 956.95 L85.55 956.10 L86.28 955.26 L87.02 954.42 L87.76 953.57 L88.50 952.74 L89.24 951.90 L89.97 951.07 L90.71 950.25 L91.45 949.44 L92.19 948.63 L92.93 947.84 L93.67 947.05 L94.40 946.28 L95.14 945.51 L95.88 944.77 L96.62 944.03 L97.36 943.31 L98.10 942.60 L98.83 941.90 L99.57 941.22 L100.31 940.54 L101.05 939.87 L101.79 939.20 L102.52 938.55 L103.26 937.90 L104.00 937.25 L104.74 936.61 L105.48 935.97 L106.22 935.34 L106.95 934.71 L107.69 934.08 L108.43 933.45 L109.17 932.83 L109.91 932.20 L110.64 931.57 L111.38 930.95 L112.12 930.33 L112.86 929.72 L113.60 929.11 L114.34 928.50 L115.07 927.90 L115.81 927.31 L116.55 926.73 L117.29 926.15 L118.03 925.58 L118.77 925.02 L119.50 924.47 L120.24 923.93 L120.98 923.40 L121.72 922.88 L122.46 922.37 L123.19 921.86 L123.93 921.36 L124.67 920.87 L125.41 920.38 L126.15 919.90 L126.89 919.42 L127.62 918.94 L128.36 918.47 L129.10 918.00 L129.84 917.54 L130.58 917.07 L131.31 916.60 L132.05 916.13 L132.79 915.65 L133.53 915.18 L134.27 914.71 L135.01 914.25 L135.74 913.79 L136.48 913.35 L137.22 912.92 L137.96 912.51 L138.70 912.12 L139.44 911.75 L140.17 911.40 L140.91 911.07 L141.65 910.76 L142.39 910.45 L143.13 910.15 L143.86 909.87 L144.60 909.60 L145.34 909.33 L146.08 909.07 L146.82 908.83 L147.56 908.59 L148.29 908.35 L149.03 908.13 L149.77 907.91 L150.51 907.69 L151.25 907.48 L151.98 907.28 L152.72 907.09 L153.46 906.90 L154.20 906.72 L154.94 906.55 L155.68 906.39" fill="none" stroke="#008000" stroke-width="1.7" stroke-linejoin="round"/>
<rect x="50.95" y="995.55" width="3.5" height="3.5" fill="#000000"/>
<rect x="67.35" y="979.15" width="3.5" height="3.5" fill="#000000"/>
<rect x="85.25" y="964.85" width="3.5" height="3.5" fill="#000000"/>
<rect x="102.65" y="955.25" width="3.5" height="3.5" fill="#000000"/>
<rect x="122.05" y="949.55" width="3.5" height="3.5" fill="#000000"/>
<rect x="134.35" y="948.55" width="3.5" height="3.5" fill="#000000"/>
<circle cx="41.50" cy="1009.00" r="2.1" fill="#ff0000"/>
<circle cx="46.60" cy="1004.00" r="2.1" fill="#ff0000"/>
<circle cx="53.30" cy="996.70" r="2.1" fill="#ff0000"/>
<circle cx="58.40" cy="990.60" r="2.1" fill="#ff0000"/>
<circle cx="65.60" cy="982.40" r="2.1" fill="#ff0000"/>
<circle cx="75.80" cy="971.30" r="2.1" fill="#ff0000"/>
<circle cx="84.00" cy="963.00" r="2.1" fill="#ff0000"/>
<circle cx="89.10" cy="958.50" r="2.1" fill="#ff0000"/>
<circle cx="94.80" cy="953.80" r="2.1" fill="#ff0000"/>
<circle cx="100.90" cy="949.70" r="2.1" fill="#ff0000"/>
<circle cx="107.10" cy="946.20" r="2.1" fill="#ff0000"/>
<circle cx="113.60" cy="943.10" r="2.1" fill="#ff0000"/>
<circle cx="119.30" cy="941.10" r="2.1" fill="#ff0000"/>
<circle cx="125.90" cy="939.00" r="2.1" fill="#ff0000"/>
<circle cx="131.60" cy="938.40" r="2.1" fill="#ff0000"/>
<circle cx="137.10" cy="938.00" r="2.1" fill="#ff0000"/>
<circle cx="142.60" cy="937.60" r="2.1" fill="#ff0000"/>
<path d="M41.10 1007.30L43.60 1011.50L38.60 1011.50Z" fill="#008000"/>
<path d="M47.20 999.10L49.70 1003.30L44.70 1003.30Z" fill="#008000"/>
<path d="M53.30 989.90L55.80 994.10L50.80 994.10Z" fill="#008000"/>
<path d="M60.10 982.10L62.60 986.30L57.60 986.30Z" fill="#008000"/>
<path d="M67.60 973.10L70.10 977.30L65.10 977.30Z" fill="#008000"/>
<path d="M75.80 963.70L78.30 967.90L73.30 967.90Z" fill="#008000"/>
<path d="M85.40 952.70L87.90 956.90L82.90 956.90Z" fill="#008000"/>
<path d="M96.90 941.20L99.40 945.40L94.40 945.40Z" fill="#008000"/>
<path d="M103.40 933.70L105.90 937.90L100.90 937.90Z" fill="#008000"/>
<path d="M106.50 929.60L109.00 933.80L104.00 933.80Z" fill="#008000"/>
<path d="M112.00 925.50L114.50 929.70L109.50 929.70Z" fill="#008000"/>
<path d="M118.30 921.40L120.80 925.60L115.80 925.60Z" fill="#008000"/>
<path d="M123.80 917.90L126.30 922.10L121.30 922.10Z" fill="#008000"/>
<path d="M131.00 913.90L133.50 918.10L128.50 918.10Z" fill="#008000"/>
<path d="M136.10 911.80L138.60 916.00L133.60 916.00Z" fill="#008000"/>
<path d="M143.30 909.80L145.80 914.00L140.80 914.00Z" fill="#008000"/>
<path d="M149.40 909.20L151.90 913.40L146.90 913.40Z" fill="#008000"/>
<path d="M154.50 908.70L157.00 912.90L152.00 912.90Z" fill="#008000"/>
<text x="156.00" y="903.70" font-size="10.8">R<tspan font-size="7.3" dy="-4.1">2</tspan><tspan dy="4.1">=995</tspan></text>
<text x="149.00" y="938.70" font-size="10.8">R<tspan font-size="7.3" dy="-4.1">2</tspan><tspan dy="4.1">=994</tspan></text>
<text x="117.50" y="967.60" font-size="10.8">R<tspan font-size="7.3" dy="-4.1">2</tspan><tspan dy="4.1">=994</tspan></text>
<text x="237.90" y="943.90" font-size="12.3" text-anchor="middle">Group 4</text><line x1="217.65" x2="258.15" y1="945.50" y2="945.50" stroke="#000" stroke-width="0.9"/>
<text x="206.70" y="960.80" font-size="12.3" text-anchor="middle">Experiment</text><line x1="178.20" x2="235.20" y1="962.40" y2="962.40" stroke="#000" stroke-width="0.9"/>
<text x="275.40" y="960.80" font-size="12.3" text-anchor="middle">Popovics</text><line x1="252.65" x2="298.15" y1="962.40" y2="962.40" stroke="#000" stroke-width="0.9"/>
<line x1="175.4" x2="203.8" y1="971.90" y2="971.90" stroke="#000000" stroke-width="1.2"/>
<text x="237.40" y="976.10" font-size="12.3" text-anchor="end">20 °C</text>
<rect x="252.85" y="970.15" width="3.5" height="3.5" fill="#000000"/>
<text x="300.00" y="976.10" font-size="12.3" text-anchor="end">20 °C</text>
<line x1="175.4" x2="203.8" y1="987.10" y2="987.10" stroke="#ff0000" stroke-width="1.2"/>
<text x="237.40" y="991.30" font-size="12.3" text-anchor="end">-<tspan dx="-0.7">20</tspan> °C</text>
<circle cx="254.60" cy="987.10" r="2.1" fill="#ff0000"/>
<text x="300.00" y="991.30" font-size="12.3" text-anchor="end">-<tspan dx="-0.7">20</tspan> °C</text>
<line x1="175.4" x2="203.8" y1="1002.10" y2="1002.10" stroke="#008000" stroke-width="1.2"/>
<text x="237.40" y="1006.30" font-size="12.3" text-anchor="end">-<tspan dx="-0.7">60</tspan> °C</text>
<path d="M254.60 999.80L257.10 1004.00L252.10 1004.00Z" fill="#008000"/>
<text x="300.00" y="1006.30" font-size="12.3" text-anchor="end">-<tspan dx="-0.7">60</tspan> °C</text>
<path d="M408.50 810.30H677.30V1014.20H408.50Z" fill="none" stroke="#000" stroke-width="1.25"/>
<path d="M402.50 1014.20H408.50M406.10 988.71H408.50M402.50 963.23H408.50M406.10 937.74H408.50M402.50 912.25H408.50M406.10 886.76H408.50M402.50 861.28H408.50M406.10 835.79H408.50M402.50 810.30H408.50M408.50 1014.20V1020.20M442.10 1014.20V1016.60M475.70 1014.20V1020.20M509.30 1014.20V1016.60M542.90 1014.20V1020.20M576.50 1014.20V1016.60M610.10 1014.20V1020.20M643.70 1014.20V1016.60M677.30 1014.20V1020.20" stroke="#000" stroke-width="1.25" fill="none"/>
<text x="397.90" y="1018.10" font-size="12.2" text-anchor="end">0</text>
<text x="397.90" y="967.12" font-size="12.2" text-anchor="end">20</text>
<text x="397.90" y="916.15" font-size="12.2" text-anchor="end">40</text>
<text x="397.90" y="865.18" font-size="12.2" text-anchor="end">60</text>
<text x="397.90" y="814.20" font-size="12.2" text-anchor="end">80</text>
<text x="408.50" y="1034.80" font-size="12.2" text-anchor="middle">0.0</text>
<text x="475.70" y="1034.80" font-size="12.2" text-anchor="middle">1.5</text>
<text x="542.90" y="1034.80" font-size="12.2" text-anchor="middle">3.0</text>
<text x="610.10" y="1034.80" font-size="12.2" text-anchor="middle">4.5</text>
<text x="677.30" y="1034.80" font-size="12.2" text-anchor="middle">6.0</text>
<text x="543.10" y="1052.20" font-size="12.15" text-anchor="middle">Strain (x10<tspan font-size="8.5" dy="-4.5">-3</tspan><tspan dy="4.5"> mm/mm)</tspan></text>
<text transform="translate(380.30,912.25) rotate(-90)" font-size="12.3" text-anchor="middle">Stress (MPa)</text>
<path d="M408.50 1014.20 L409.11 1013.40 L409.73 1012.60 L410.34 1011.81 L410.96 1011.03 L411.57 1010.26 L412.19 1009.49 L412.80 1008.73 L413.41 1007.97 L414.03 1007.22 L414.64 1006.48 L415.26 1005.75 L415.87 1005.03 L416.49 1004.31 L417.10 1003.60 L417.71 1002.90 L418.33 1002.21 L418.94 1001.52 L419.56 1000.85 L420.17 1000.18 L420.78 999.54 L421.40 998.90 L422.01 998.28 L422.63 997.67 L423.24 997.07 L423.86 996.48 L424.47 995.90 L425.08 995.31 L425.70 994.73 L426.31 994.15 L426.93 993.57 L427.54 992.99 L428.16 992.40 L428.77 991.81 L429.38 991.20 L430.00 990.59 L430.61 989.96 L431.23 989.32 L431.84 988.66 L432.46 987.99 L433.07 987.29 L433.68 986.57 L434.30 985.83 L434.91 985.08 L435.53 984.32 L436.14 983.55 L436.75 982.78 L437.37 982.01 L437.98 981.24 L438.60 980.48 L439.21 979.72 L439.83 978.98 L440.44 978.25 L441.05 977.54 L441.67 976.86 L442.28 976.19 L442.90 975.56 L443.51 974.94 L444.13 974.33 L444.74 973.72 L445.35 973.12 L445.97 972.52 L446.58 971.93 L447.20 971.35 L447.81 970.78 L448.43 970.21 L449.04 969.66 L449.65 969.12 L450.27 968.59 L450.88 968.07 L451.50 967.57 L452.11 967.09 L452.73 966.63 L453.34 966.18 L453.95 965.75 L454.57 965.34 L455.18 964.95 L455.80 964.58 L456.41 964.23 L457.02 963.88 L457.64 963.55 L458.25 963.23 L458.87 962.92 L459.48 962.61 L460.10 962.32 L460.71 962.03 L461.32 961.75 L461.94 961.48 L462.55 961.20 L463.17 960.94 L463.78 960.67 L464.40 960.41 L465.01 960.14 L465.62 959.88 L466.24 959.62 L466.85 959.35 L467.47 959.09 L468.08 958.83 L468.70 958.57 L469.31 958.31 L469.92 958.06 L470.54 957.81 L471.15 957.56 L471.77 957.31 L472.38 957.07 L473.00 956.83 L473.61 956.59 L474.22 956.36 L474.84 956.12 L475.45 955.89 L476.07 955.66 L476.68 955.43 L477.29 955.21 L477.91 954.99 L478.52 954.77 L479.14 954.54 L479.75 954.32 L480.37 954.09 L480.98 953.86 L481.59 953.64 L482.21 953.41 L482.82 953.18 L483.44 952.96 L484.05 952.74 L484.67 952.53 L485.28 952.32 L485.89 952.12 L486.51 951.92 L487.12 951.74 L487.74 951.56 L488.35 951.39 L488.97 951.23 L489.58 951.09 L490.19 950.96 L490.81 950.83 L491.42 950.71 L492.04 950.59 L492.65 950.48 L493.26 950.37 L493.88 950.27 L494.49 950.17 L495.11 950.07 L495.72 949.99 L496.34 949.91 L496.95 949.83 L497.56 949.77 L498.18 949.71 L498.79 949.65 L499.41 949.60 L500.02 949.55 L500.64 949.50 L501.25 949.45 L501.86 949.41 L502.48 949.36 L503.09 949.33 L503.71 949.29 L504.32 949.26 L504.94 949.24 L505.55 949.22 L506.16 949.21" fill="none" stroke="#000000" stroke-width="1.7" stroke-linejoin="round"/>
<path d="M408.50 1014.20 L409.16 1013.34 L409.82 1012.49 L410.48 1011.64 L411.14 1010.80 L411.80 1009.97 L412.46 1009.15 L413.12 1008.34 L413.77 1007.53 L414.43 1006.73 L415.09 1005.95 L415.75 1005.17 L416.41 1004.39 L417.07 1003.63 L417.73 1002.88 L418.39 1002.14 L419.05 1001.41 L419.71 1000.68 L420.37 999.97 L421.03 999.28 L421.69 998.61 L422.35 997.94 L423.01 997.29 L423.66 996.65 L424.32 996.01 L424.98 995.38 L425.64 994.76 L426.30 994.13 L426.96 993.51 L427.62 992.88 L428.28 992.25 L428.94 991.61 L429.60 990.96 L430.26 990.30 L430.92 989.63 L431.58 988.94 L432.24 988.24 L432.89 987.51 L433.55 986.76 L434.21 985.99 L434.87 985.21 L435.53 984.42 L436.19 983.62 L436.85 982.82 L437.51 982.02 L438.17 981.22 L438.83 980.44 L439.49 979.67 L440.15 978.92 L440.81 978.19 L441.47 977.48 L442.13 976.81 L442.78 976.17 L443.44 975.56 L444.10 974.97 L444.76 974.39 L445.42 973.83 L446.08 973.28 L446.74 972.74 L447.40 972.22 L448.06 971.70 L448.72 971.19 L449.38 970.70 L450.04 970.20 L450.70 969.72 L451.36 969.24 L452.02 968.76 L452.67 968.28 L453.33 967.81 L453.99 967.33 L454.65 966.86 L455.31 966.38 L455.97 965.91 L456.63 965.44 L457.29 964.98 L457.95 964.52 L458.61 964.06 L459.27 963.61 L459.93 963.17 L460.59 962.72 L461.25 962.28 L461.90 961.84 L462.56 961.41 L463.22 960.97 L463.88 960.53 L464.54 960.10 L465.20 959.66 L465.86 959.22 L466.52 958.78 L467.18 958.34 L467.84 957.90 L468.50 957.45 L469.16 957.00 L469.82 956.55 L470.48 956.10 L471.14 955.64 L471.79 955.19 L472.45 954.75 L473.11 954.30 L473.77 953.86 L474.43 953.43 L475.09 953.00 L475.75 952.58 L476.41 952.17 L477.07 951.77 L477.73 951.37 L478.39 950.99 L479.05 950.62 L479.71 950.25 L480.37 949.88 L481.03 949.52 L481.68 949.17 L482.34 948.82 L483.00 948.47 L483.66 948.13 L484.32 947.79 L484.98 947.46 L485.64 947.14 L486.30 946.82 L486.96 946.51 L487.62 946.20 L488.28 945.90 L488.94 945.61 L489.60 945.32 L490.26 945.04 L490.92 944.75 L491.57 944.47 L492.23 944.19 L492.89 943.92 L493.55 943.64 L494.21 943.37 L494.87 943.11 L495.53 942.85 L496.19 942.61 L496.85 942.37 L497.51 942.14 L498.17 941.92 L498.83 941.72 L499.49 941.53 L500.15 941.35 L500.80 941.19 L501.46 941.05 L502.12 940.91 L502.78 940.78 L503.44 940.66 L504.10 940.54 L504.76 940.42 L505.42 940.31 L506.08 940.20 L506.74 940.09 L507.40 939.97 L508.06 939.86 L508.72 939.75 L509.38 939.64 L510.04 939.53 L510.69 939.42 L511.35 939.32 L512.01 939.21 L512.67 939.11 L513.33 939.01" fill="none" stroke="#ff0000" stroke-width="1.7" stroke-linejoin="round"/>
<path d="M408.50 1014.20 L409.24 1013.00 L409.98 1011.81 L410.71 1010.64 L411.45 1009.48 L412.19 1008.34 L412.93 1007.21 L413.67 1006.10 L414.41 1005.00 L415.14 1003.92 L415.88 1002.85 L416.62 1001.81 L417.36 1000.78 L418.10 999.77 L418.83 998.77 L419.57 997.80 L420.31 996.84 L421.05 995.91 L421.79 995.00 L422.53 994.10 L423.26 993.22 L424.00 992.36 L424.74 991.50 L425.48 990.66 L426.22 989.83 L426.96 989.00 L427.69 988.18 L428.43 987.36 L429.17 986.54 L429.91 985.72 L430.65 984.90 L431.38 984.08 L432.12 983.25 L432.86 982.43 L433.60 981.62 L434.34 980.81 L435.08 980.01 L435.81 979.22 L436.55 978.43 L437.29 977.64 L438.03 976.85 L438.77 976.05 L439.50 975.25 L440.24 974.45 L440.98 973.64 L441.72 972.82 L442.46 971.99 L443.20 971.15 L443.93 970.30 L444.67 969.43 L445.41 968.55 L446.15 967.66 L446.89 966.76 L447.63 965.86 L448.36 964.96 L449.10 964.05 L449.84 963.14 L450.58 962.24 L451.32 961.33 L452.05 960.44 L452.79 959.55 L453.53 958.67 L454.27 957.80 L455.01 956.95 L455.75 956.10 L456.48 955.26 L457.22 954.42 L457.96 953.57 L458.70 952.74 L459.44 951.90 L460.17 951.07 L460.91 950.25 L461.65 949.44 L462.39 948.63 L463.13 947.84 L463.87 947.05 L464.60 946.28 L465.34 945.51 L466.08 944.77 L466.82 944.03 L467.56 943.31 L468.30 942.60 L469.03 941.90 L469.77 941.22 L470.51 940.54 L471.25 939.87 L471.99 939.20 L472.72 938.55 L473.46 937.90 L474.20 937.25 L474.94 936.61 L475.68 935.97 L476.42 935.34 L477.15 934.71 L477.89 934.08 L478.63 933.45 L479.37 932.83 L480.11 932.20 L480.84 931.57 L481.58 930.95 L482.32 930.33 L483.06 929.72 L483.80 929.11 L484.54 928.50 L485.27 927.90 L486.01 927.31 L486.75 926.73 L487.49 926.15 L488.23 925.58 L488.97 925.02 L489.70 924.47 L490.44 923.93 L491.18 923.40 L491.92 922.88 L492.66 922.37 L493.39 921.86 L494.13 921.36 L494.87 920.87 L495.61 920.38 L496.35 919.90 L497.09 919.42 L497.82 918.94 L498.56 918.47 L499.30 918.00 L500.04 917.54 L500.78 917.07 L501.51 916.60 L502.25 916.13 L502.99 915.65 L503.73 915.18 L504.47 914.71 L505.21 914.25 L505.94 913.79 L506.68 913.35 L507.42 912.92 L508.16 912.51 L508.90 912.12 L509.64 911.75 L510.37 911.40 L511.11 911.07 L511.85 910.76 L512.59 910.45 L513.33 910.15 L514.06 909.87 L514.80 909.60 L515.54 909.33 L516.28 909.07 L517.02 908.83 L517.76 908.59 L518.49 908.35 L519.23 908.13 L519.97 907.91 L520.71 907.69 L521.45 907.48 L522.18 907.28 L522.92 907.09 L523.66 906.90 L524.40 906.72 L525.14 906.55 L525.88 906.39" fill="none" stroke="#008000" stroke-width="1.7" stroke-linejoin="round"/>
<rect x="421.55" y="994.95" width="3.5" height="3.5" fill="#000000"/>
<rect x="437.95" y="979.15" width="3.5" height="3.5" fill="#000000"/>
<rect x="455.75" y="965.95" width="3.5" height="3.5" fill="#000000"/>
<rect x="473.25" y="956.15" width="3.5" height="3.5" fill="#000000"/>
<rect x="493.15" y="949.95" width="3.5" height="3.5" fill="#000000"/>
<rect x="505.35" y="948.55" width="3.5" height="3.5" fill="#000000"/>
<circle cx="411.00" cy="1009.00" r="2.1" fill="#ff0000"/>
<circle cx="417.20" cy="1001.40" r="2.1" fill="#ff0000"/>
<circle cx="426.00" cy="991.20" r="2.1" fill="#ff0000"/>
<circle cx="435.60" cy="979.50" r="2.1" fill="#ff0000"/>
<circle cx="445.80" cy="968.70" r="2.1" fill="#ff0000"/>
<circle cx="454.00" cy="961.50" r="2.1" fill="#ff0000"/>
<circle cx="459.50" cy="957.40" r="2.1" fill="#ff0000"/>
<circle cx="465.20" cy="953.80" r="2.1" fill="#ff0000"/>
<circle cx="470.90" cy="949.70" r="2.1" fill="#ff0000"/>
<circle cx="477.10" cy="946.60" r="2.1" fill="#ff0000"/>
<circle cx="483.60" cy="943.50" r="2.1" fill="#ff0000"/>
<circle cx="489.30" cy="941.50" r="2.1" fill="#ff0000"/>
<circle cx="495.90" cy="939.50" r="2.1" fill="#ff0000"/>
<circle cx="501.60" cy="938.40" r="2.1" fill="#ff0000"/>
<circle cx="507.10" cy="938.00" r="2.1" fill="#ff0000"/>
<circle cx="512.60" cy="937.60" r="2.1" fill="#ff0000"/>
<path d="M411.70 1004.20L414.20 1008.40L409.20 1008.40Z" fill="#008000"/>
<path d="M417.80 995.00L420.30 999.20L415.30 999.20Z" fill="#008000"/>
<path d="M424.80 983.80L427.30 988.00L422.30 988.00Z" fill="#008000"/>
<path d="M432.10 973.90L434.60 978.10L429.60 978.10Z" fill="#008000"/>
<path d="M438.70 965.00L441.20 969.20L436.20 969.20Z" fill="#008000"/>
<path d="M447.20 954.10L449.70 958.30L444.70 958.30Z" fill="#008000"/>
<path d="M456.00 944.90L458.50 949.10L453.50 949.10Z" fill="#008000"/>
<path d="M466.20 935.10L468.70 939.30L463.70 939.30Z" fill="#008000"/>
<path d="M473.80 928.60L476.30 932.80L471.30 932.80Z" fill="#008000"/>
<path d="M477.50 925.50L480.00 929.70L475.00 929.70Z" fill="#008000"/>
<path d="M482.60 922.90L485.10 927.10L480.10 927.10Z" fill="#008000"/>
<path d="M488.30 919.40L490.80 923.60L485.80 923.60Z" fill="#008000"/>
<path d="M494.90 916.30L497.40 920.50L492.40 920.50Z" fill="#008000"/>
<path d="M501.00 913.90L503.50 918.10L498.50 918.10Z" fill="#008000"/>
<path d="M507.10 911.80L509.60 916.00L504.60 916.00Z" fill="#008000"/>
<path d="M513.30 909.80L515.80 914.00L510.80 914.00Z" fill="#008000"/>
<path d="M519.40 909.20L521.90 913.40L516.90 913.40Z" fill="#008000"/>
<path d="M524.50 908.70L527.00 912.90L522.00 912.90Z" fill="#008000"/>
<text x="526.30" y="903.30" font-size="10.8">R<tspan font-size="7.3" dy="-4.1">2</tspan><tspan dy="4.1">=987</tspan></text>
<text x="519.80" y="939.00" font-size="10.8">R<tspan font-size="7.3" dy="-4.1">2</tspan><tspan dy="4.1">=992</tspan></text>
<text x="487.70" y="968.70" font-size="10.8">R<tspan font-size="7.3" dy="-4.1">2</tspan><tspan dy="4.1">=995</tspan></text>
<text x="609.55" y="943.90" font-size="12.3" text-anchor="middle">Group 4</text><line x1="589.30" x2="629.80" y1="945.50" y2="945.50" stroke="#000" stroke-width="0.9"/>
<text x="574.60" y="960.80" font-size="12.3" text-anchor="middle">Experiment</text><line x1="546.10" x2="603.10" y1="962.40" y2="962.40" stroke="#000" stroke-width="0.9"/>
<text x="647.20" y="960.80" font-size="12.3" text-anchor="middle">Hognestad</text><line x1="620.95" x2="673.45" y1="962.40" y2="962.40" stroke="#000" stroke-width="0.9"/>
<line x1="547" x2="575.8" y1="971.90" y2="971.90" stroke="#000000" stroke-width="1.2"/>
<text x="609.40" y="976.10" font-size="12.3" text-anchor="end">20 °C</text>
<rect x="624.35" y="970.15" width="3.5" height="3.5" fill="#000000"/>
<text x="672.00" y="976.10" font-size="12.3" text-anchor="end">20 °C</text>
<line x1="547" x2="575.8" y1="987.10" y2="987.10" stroke="#ff0000" stroke-width="1.2"/>
<text x="609.40" y="991.30" font-size="12.3" text-anchor="end">-<tspan dx="-0.7">20</tspan> °C</text>
<circle cx="626.10" cy="987.10" r="2.1" fill="#ff0000"/>
<text x="672.00" y="991.30" font-size="12.3" text-anchor="end">-<tspan dx="-0.7">20</tspan> °C</text>
<line x1="547" x2="575.8" y1="1002.10" y2="1002.10" stroke="#008000" stroke-width="1.2"/>
<text x="609.40" y="1006.30" font-size="12.3" text-anchor="end">-<tspan dx="-0.7">60</tspan> °C</text>
<path d="M626.10 999.80L628.60 1004.00L623.60 1004.00Z" fill="#008000"/>
<text x="672.00" y="1006.30" font-size="12.3" text-anchor="end">-<tspan dx="-0.7">60</tspan> °C</text>
</svg></body></html>
